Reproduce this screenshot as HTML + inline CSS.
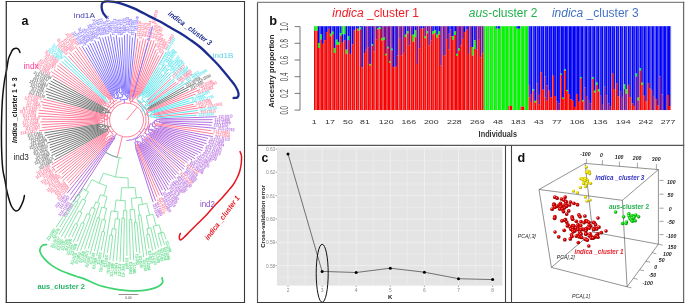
<!DOCTYPE html>
<html><head><meta charset="utf-8"><style>
html,body{margin:0;padding:0;background:#fff;width:685px;height:304px;overflow:hidden}
svg{display:block;will-change:transform}
text{font-family:"Liberation Sans", sans-serif}
</style></head><body>
<svg xmlns="http://www.w3.org/2000/svg" width="685" height="304" viewBox="0 0 685 304">
<rect width="685" height="304" fill="#fff"/>
<g fill="none" stroke-linecap="butt">
<path d="M159.46 118.81L216.82 116.73M159.48 119.87L212.60 119.67M159.46 118.81A32.98 32.98 0 0 1 159.48 119.87M156.51 119.40L159.48 119.34M159.36 120.94L212.66 122.46M162.11 122.17L211.66 125.19M162.02 123.32L215.92 128.36M162.11 122.17A35.67 35.67 0 0 1 162.02 123.32M159.28 122.53L162.07 122.75M159.36 120.94A32.88 32.88 0 0 1 159.28 122.53M156.47 121.58L159.33 121.73M156.51 119.40A30.01 30.01 0 0 1 156.47 121.58M154.73 120.46L156.51 120.49M154.73 120.46A28.23 28.23 0 0 1 154.45 123.99M153.01 122.10L154.65 122.23M155.45 125.58L212.80 136.62M160.44 127.68L208.04 138.46M160.18 128.78L206.34 140.81M160.44 127.68A34.80 34.80 0 0 1 160.18 128.78M158.36 127.76L160.31 128.23M157.94 129.29L206.60 143.67M158.36 127.76A32.79 32.79 0 0 1 157.94 129.29M156.62 128.11L158.16 128.53M156.11 129.80L203.78 145.58M156.62 128.11A31.19 31.19 0 0 1 156.11 129.80M154.74 128.47L156.38 128.96M155.45 125.58A29.49 29.49 0 0 1 154.74 128.47M152.32 126.34L155.14 127.03M153.01 122.10A26.59 26.59 0 0 1 152.32 126.34M149.99 123.79L152.75 124.24M151.14 129.05L203.14 148.15M152.60 130.56L202.39 150.70M152.24 131.40L200.68 152.84M152.60 130.56A28.15 28.15 0 0 1 152.24 131.40M150.67 130.23L152.42 130.98M151.14 129.05A26.25 26.25 0 0 1 150.67 130.23M149.47 129.07L150.91 129.65M153.15 132.85L197.89 154.41M152.72 133.70L195.16 155.87M153.15 132.85A29.59 29.59 0 0 1 152.72 133.70M151.30 132.45L152.94 133.27M150.67 133.64L195.11 158.72M151.30 132.45A27.75 27.75 0 0 1 150.67 133.64M148.29 131.61L150.99 133.05M149.47 129.07A24.69 24.69 0 0 1 148.29 131.61M148.10 129.98L148.92 130.36M149.99 123.79A23.79 23.79 0 0 1 148.10 129.98M147.80 126.51L149.25 126.95M148.96 133.65L192.18 159.92M150.12 135.42L188.46 160.47M149.61 136.18L187.48 162.70M150.12 135.42A28.21 28.21 0 0 1 149.61 136.18M148.27 134.73L149.86 135.80M148.96 133.65A26.29 26.29 0 0 1 148.27 134.73M147.91 133.74L148.63 134.20M148.76 137.84L184.80 166.72M147.91 133.74A25.44 25.44 0 0 1 146.61 135.59M144.69 132.85L147.28 134.68M147.80 126.51A22.27 22.27 0 0 1 144.69 132.85M144.10 128.63L146.50 129.80M146.83 137.40L184.19 169.38M146.26 138.05L182.18 170.87M146.83 137.40A26.76 26.76 0 0 1 146.26 138.05M145.41 136.72L146.54 137.73M144.77 139.00L178.92 174.52M145.41 136.72A25.24 25.24 0 0 1 144.28 137.91M142.80 135.38L144.85 137.32M143.08 138.40L176.02 174.95M143.51 140.15L176.02 178.66M145.20 143.66L173.37 179.31M144.42 144.26L171.00 180.22M145.20 143.66A30.16 30.16 0 0 1 144.42 144.26M143.25 141.91L144.81 143.96M142.16 142.70L169.75 182.67M143.25 141.91A27.58 27.58 0 0 1 142.16 142.70M142.00 141.34L142.71 142.31M143.51 140.15A26.37 26.37 0 0 1 142.00 141.34M141.78 139.50L142.77 140.76M143.08 138.40A24.77 24.77 0 0 1 141.78 139.50M140.92 137.16L142.44 138.96M142.80 135.38A22.41 22.41 0 0 1 140.92 137.16M141.03 135.39L141.89 136.30M140.98 142.51L168.62 185.47M140.81 143.92L168.25 189.76M140.03 144.37L165.90 190.94M140.81 143.92A27.87 27.87 0 0 1 140.03 144.37M139.87 143.18L140.43 144.14M140.98 142.51A26.76 26.76 0 0 1 139.87 143.18M139.59 141.47L140.43 142.85M139.08 144.48L162.52 190.10M138.28 144.88L162.40 195.80M139.08 144.48A27.53 27.53 0 0 1 138.28 144.88M138.29 143.89L138.68 144.68M138.29 143.89A26.64 26.64 0 0 1 137.12 144.43M137.08 142.81L137.71 144.17M139.59 141.47A25.14 25.14 0 0 1 137.08 142.81M137.77 141.08L138.35 142.18M136.51 147.85L155.58 200.87M135.61 148.16L153.11 202.26M136.51 147.85A29.59 29.59 0 0 1 135.61 148.16M135.22 145.54L136.06 148.01M136.45 145.08A26.98 26.98 0 0 1 135.22 145.54M134.77 142.43L135.84 145.32M137.77 141.08A23.90 23.90 0 0 1 134.77 142.43M135.17 139.31L136.29 141.81M141.03 135.39A21.17 21.17 0 0 1 135.17 139.31M137.39 136.29L138.27 137.60M144.10 128.63A19.60 19.60 0 0 1 137.39 136.29M139.30 131.19L141.25 132.90M114.91 137.85L73.12 202.20M114.29 137.44L70.22 200.37M114.91 137.85A21.29 21.29 0 0 1 114.29 137.44M115.20 136.75L114.60 137.65M112.57 138.49L70.19 194.72M111.93 137.99L67.12 193.33M112.57 138.49A23.15 23.15 0 0 1 111.93 137.99M114.06 135.92L112.25 138.24M115.20 136.75A20.20 20.20 0 0 1 114.06 135.92M116.51 133.75L114.63 136.34M117.19 157.36A38.50 38.50 0 0 1 105.53 152.29M137.36 137.38A20.50 20.50 0 0 1 126.50 140.50" stroke="#b56fe0" stroke-width="1.0"/>
<path d="M155.52 123.66L211.30 130.70M155.38 124.60L213.82 133.91M155.52 123.66A29.25 29.25 0 0 1 155.38 124.60M154.45 123.99L155.45 124.13M149.33 137.11L184.82 163.71M149.33 137.11A28.53 28.53 0 0 1 148.76 137.84M146.61 135.59L149.05 137.48M145.37 138.40L179.11 171.28M145.37 138.40A26.35 26.35 0 0 1 144.77 139.00M144.28 137.91L145.07 138.70M137.12 144.43L159.31 195.49M136.45 145.08L157.14 197.24M112.77 135.85L69.81 185.42M110.20 137.65L68.31 183.00M105.71 141.13L66.53 180.93M105.05 140.46L62.39 181.13M105.71 141.13A29.64 29.64 0 0 1 105.05 140.46M107.33 138.87L105.37 140.79M105.55 138.74L60.52 179.03M104.97 138.07L61.74 174.34M105.55 138.74A28.11 28.11 0 0 1 104.97 138.07M106.17 137.61L105.26 138.41M107.33 138.87A26.90 26.90 0 0 1 106.17 137.61M108.85 136.30L106.74 138.25M110.20 137.65A24.03 24.03 0 0 1 108.85 136.30M111.67 134.83L109.51 136.99M112.77 135.85A20.97 20.97 0 0 1 111.67 134.83M113.14 134.35L112.21 135.35M107.46 134.97L58.81 173.23M106.99 134.36L55.00 172.64M107.46 134.97A24.22 24.22 0 0 1 106.99 134.36M108.33 133.83L107.22 134.67M105.51 134.45L56.62 168.11M105.06 133.78L51.82 167.99M105.51 134.45A25.49 25.49 0 0 1 105.06 133.78M107.49 132.65L105.28 134.12M108.33 133.83A22.83 22.83 0 0 1 107.49 132.65M108.65 132.71L107.90 133.24M107.70 131.25L51.85 164.70M108.65 132.71A21.91 21.91 0 0 1 107.70 131.25M110.10 130.73L108.16 131.99M113.14 134.35A19.60 19.60 0 0 1 110.10 130.73M113.50 130.95L111.51 132.63M100.21 123.25L39.08 130.80M98.19 122.54L42.12 127.57M98.12 121.59L41.64 124.76M98.19 122.54A28.42 28.42 0 0 1 98.12 121.59M100.09 121.92L98.15 122.07M100.21 123.25A26.48 26.48 0 0 1 100.09 121.92M102.28 122.38L100.14 122.59M99.26 120.61L40.31 121.94M99.26 119.70L41.88 119.08M99.26 120.61A27.24 27.24 0 0 1 99.26 119.70M102.17 120.14L99.26 120.16M102.28 122.38A24.33 24.33 0 0 1 102.17 120.14M104.60 121.14L102.20 121.26M100.71 118.86L38.09 116.08M100.77 117.99L38.43 113.13M100.71 118.86A25.81 25.81 0 0 1 100.77 117.99M103.54 118.60L100.74 118.42M101.62 117.22L38.80 110.20M101.73 116.39L42.58 107.77M101.62 117.22A25.03 25.03 0 0 1 101.73 116.39M103.68 117.06L101.67 116.80M103.54 118.60A23.01 23.01 0 0 1 103.68 117.06M104.67 117.93L103.60 117.83M104.60 121.14A21.93 21.93 0 0 1 104.67 117.93M107.50 119.59L104.58 119.53M106.25 116.35L42.15 104.81M105.18 115.42L40.46 101.52M105.34 114.71L43.30 99.19M105.18 115.42A21.81 21.81 0 0 1 105.34 114.71M106.46 115.34L105.26 115.06M106.25 116.35A20.58 20.58 0 0 1 106.46 115.34M107.89 116.16L106.35 115.85M107.50 119.59A19.00 19.00 0 0 1 107.89 116.16M109.61 118.09L107.62 117.87M100.62 104.49L51.84 75.26M101.14 103.66L51.25 71.51M100.62 104.49A30.17 30.17 0 0 1 101.14 103.66M102.77 105.25L100.88 104.07M103.52 104.11L53.83 69.75M102.77 105.25A27.94 27.94 0 0 1 103.52 104.11M105.15 105.99L103.14 104.67M104.88 103.98L57.22 68.68M105.41 103.29L57.61 65.40M104.88 103.98A26.90 26.90 0 0 1 105.41 103.29M106.24 104.47L105.15 103.63M105.15 105.99A25.53 25.53 0 0 1 106.24 104.47M108.20 107.01L105.68 105.22M109.37 105.49L59.47 63.22M108.20 107.01A22.44 22.44 0 0 1 109.37 105.49M111.02 107.98L108.77 106.24M105.21 96.58L68.36 56.03M109.67 100.23L68.90 52.32M109.77 99.00L73.10 52.94M110.47 98.46L75.17 51.05M109.77 99.00A26.85 26.85 0 0 1 110.47 98.46M110.66 99.43L110.12 98.73M109.67 100.23A25.96 25.96 0 0 1 110.66 99.43M111.06 100.93L110.16 99.82M108.78 103.03A24.54 24.54 0 0 1 111.06 100.93M111.33 103.51L109.88 101.94M112.16 99.37L75.32 46.37M112.84 98.92L79.05 46.74M112.16 99.37A25.12 25.12 0 0 1 112.84 98.92M114.02 101.40L112.50 99.14M111.33 103.51A22.40 22.40 0 0 1 114.02 101.40M114.37 104.61L112.63 102.40M111.02 107.98A19.60 19.60 0 0 1 114.37 104.61M114.43 108.02L112.59 106.19M129.37 99.45L137.87 38.47M130.54 96.61L140.21 40.73M131.31 96.76L143.36 38.51M130.54 96.61A23.73 23.73 0 0 1 131.31 96.76M130.37 99.61L130.93 96.68M129.37 99.45A20.75 20.75 0 0 1 130.37 99.61M129.63 100.96L129.87 99.53M132.19 96.40L146.08 38.84M133.93 96.16L151.35 40.27M134.71 96.41L154.19 40.43M133.93 96.16A24.97 24.97 0 0 1 134.71 96.41M133.79 97.88L134.32 96.28M134.87 98.27L156.06 43.23M133.79 97.88A23.29 23.29 0 0 1 134.87 98.27M133.92 99.23L134.33 98.07M132.02 98.64A22.06 22.06 0 0 1 133.92 99.23M132.17 101.55L132.98 98.91M129.63 100.96A19.30 19.30 0 0 1 132.17 101.55M130.39 103.45L130.91 101.21M136.86 95.51L156.38 49.36M137.65 95.86L157.67 52.51M136.86 95.51A26.59 26.59 0 0 1 137.65 95.86M136.89 96.50L137.25 95.68M138.89 95.31L158.96 55.30M140.47 94.27L163.78 51.34M136.89 96.50A25.70 25.70 0 0 1 138.67 97.37M136.61 99.32L137.79 96.92M147.96 100.04L171.06 78.55M148.67 103.08L176.18 82.07M149.20 103.80L178.57 82.86M148.67 103.08A27.89 27.89 0 0 1 149.20 103.80M147.26 104.68L148.94 103.44M148.28 110.14L196.92 88.12M149.97 110.28L199.91 89.59M150.27 111.04L195.61 93.96M149.97 110.28A25.41 25.41 0 0 1 150.27 111.04M148.73 111.21L150.13 110.66M148.28 110.14A23.91 23.91 0 0 1 148.73 111.21M147.52 111.09L148.51 110.67M147.52 111.09A22.83 22.83 0 0 1 148.11 112.65M146.71 112.29L147.83 111.87M154.30 113.47L193.76 104.21M151.84 114.91L196.65 105.91M155.49 115.15L205.93 106.71M156.38 116.97L198.54 112.70M146.71 112.29A21.63 21.63 0 0 1 147.80 116.21M145.68 114.69L147.35 114.23M122.39 136.50L117.19 157.36M118.00 105.28A17.00 17.00 0 1 1 123.55 136.74M123.55 136.74A17.00 17.00 0 0 1 118.00 105.28M126.50 120.00L137.43 106.98M111.49 132.60A19.60 19.60 0 0 1 121.43 101.07M131.57 101.07A19.60 19.60 0 0 1 137.74 136.06M107.27 131.10A22.20 22.20 0 0 1 117.12 99.88M136.92 100.40A22.20 22.20 0 0 1 143.51 134.27M132.91 96.87L152.69 25.56" stroke="#ff7f9c" stroke-width="1.0"/>
<path d="M107.82 130.39L54.20 160.22M104.26 131.46L55.26 156.69M103.90 130.74L51.43 155.67M104.26 131.46A25.02 25.02 0 0 1 103.90 130.74M105.36 130.46L104.08 131.10M102.40 130.52L51.53 152.73M102.08 129.74L50.15 150.46M102.40 130.52A26.29 26.29 0 0 1 102.08 129.74M104.74 129.09L102.24 130.13M105.36 130.46A23.58 23.58 0 0 1 104.74 129.09M107.05 128.86L105.04 129.78M107.82 130.39A21.38 21.38 0 0 1 107.05 128.86M108.47 129.11L107.42 129.64M105.32 127.67L49.73 147.82M99.26 128.89L49.76 145.06M98.99 128.02L46.84 143.22M99.26 128.89A28.66 28.66 0 0 1 98.99 128.02M100.85 127.92L99.12 128.46M99.56 126.93L48.87 139.96M99.35 126.06L47.32 137.67M99.56 126.93A27.82 27.82 0 0 1 99.35 126.06M100.40 126.27L99.45 126.49M100.85 127.92A26.85 26.85 0 0 1 100.40 126.27M103.14 126.41L100.61 127.10M99.63 125.10L45.00 135.47M99.48 124.24L44.35 132.89M99.63 125.10A27.35 27.35 0 0 1 99.48 124.24M102.63 124.14L99.55 124.67M103.14 126.41A24.22 24.22 0 0 1 102.63 124.14M104.51 124.91L102.86 125.28M105.32 127.67A22.53 22.53 0 0 1 104.51 124.91M107.11 125.65L104.87 126.30M108.47 129.11A20.20 20.20 0 0 1 107.11 125.65M110.69 126.24L107.71 127.41M103.05 113.30L47.00 97.30M100.40 111.61L46.20 94.20M100.68 110.76L45.41 90.99M100.40 111.61A27.42 27.42 0 0 1 100.68 110.76M103.41 112.16L100.54 111.19M103.05 113.30A24.39 24.39 0 0 1 103.41 112.16M105.26 113.37L103.22 112.73M103.53 110.92L46.53 88.40M102.78 109.72L49.51 86.62M103.13 108.95L48.53 83.12M102.78 109.72A25.86 25.86 0 0 1 103.13 108.95M104.00 109.81L102.95 109.33M103.53 110.92A24.70 24.70 0 0 1 104.00 109.81M106.01 111.32L103.76 110.36M105.26 113.37A22.25 22.25 0 0 1 106.01 111.32M107.26 112.94L105.61 112.33M106.30 109.62L50.66 81.04M106.65 108.97L53.01 79.16M106.30 109.62A22.71 22.71 0 0 1 106.65 108.97M108.42 110.34L106.47 109.30M107.26 112.94A20.50 20.50 0 0 1 108.42 110.34M110.99 113.05L107.79 111.62M149.32 106.86L184.17 86.80M149.73 107.61L195.96 82.95M149.32 106.86A26.33 26.33 0 0 1 149.73 107.61M147.97 108.10L149.53 107.24M148.53 109.16L188.75 89.35M147.97 108.10A24.55 24.55 0 0 1 148.53 109.16M146.69 109.44L148.26 108.62" stroke="#787878" stroke-width="1.0"/>
<path d="M105.94 101.40L61.61 61.30M104.72 98.96L64.17 59.81M104.46 97.29L63.99 55.57M104.46 97.29A31.65 31.65 0 0 1 105.21 96.58M105.77 97.92L104.84 96.93M104.72 98.96A30.28 30.28 0 0 1 105.77 97.92M107.03 100.26L105.24 98.44M105.94 101.40A27.72 27.72 0 0 1 107.03 100.26M108.78 103.03L106.48 100.82M141.73 94.00L166.31 52.02M142.56 94.51L159.78 67.18M141.73 94.00A30.13 30.13 0 0 1 142.56 94.51M141.71 94.98L142.15 94.25M140.47 94.27A29.28 29.28 0 0 1 141.71 94.98M140.26 96.06L141.09 94.61M138.89 95.31A27.62 27.62 0 0 1 140.26 96.06M138.67 97.37L139.58 95.67M142.49 96.36L164.66 63.58M145.98 93.11L166.37 64.98M146.84 93.76L162.32 73.80M145.98 93.11A33.20 33.20 0 0 1 146.84 93.76M144.59 95.86L146.42 93.43M146.32 96.08L168.87 68.87M148.24 95.43L168.67 72.34M149.02 96.15L171.42 72.43M148.24 95.43A32.81 32.81 0 0 1 149.02 96.15M147.46 97.07L148.63 95.78M146.32 96.08A31.07 31.07 0 0 1 147.46 97.07M146.30 97.25L146.90 96.56M144.59 95.86A30.17 30.17 0 0 1 146.30 97.25M144.44 97.80L145.46 96.54M142.49 96.36A28.54 28.54 0 0 1 144.44 97.80M141.90 99.20L143.48 97.06M147.30 99.35L171.34 75.49M147.30 99.35A29.31 29.31 0 0 1 147.96 100.04M146.27 101.01L147.63 99.69M147.17 101.99L174.75 77.95M146.27 101.01A27.41 27.41 0 0 1 147.17 101.99M145.59 102.53L146.72 101.49M141.90 99.20A25.88 25.88 0 0 1 145.59 102.53M141.91 102.90L143.83 100.77M136.61 99.32A23.02 23.02 0 0 1 141.91 102.90M138.32 102.50L139.39 100.92M145.19 104.75L174.73 80.64M148.71 105.22L184.18 81.62M149.17 105.95L191.40 79.78M148.71 105.22A26.67 26.67 0 0 1 149.17 105.95M148.21 106.05L148.94 105.58M147.26 104.68A25.81 25.81 0 0 1 148.21 106.05M146.36 106.31L147.75 105.36M145.19 104.75A24.12 24.12 0 0 1 146.36 106.31M144.72 106.32L145.79 105.52M144.72 106.32A22.78 22.78 0 0 1 146.69 109.44M144.36 108.73L145.77 107.84M138.32 102.50A21.12 21.12 0 0 1 144.36 108.73M140.79 106.15L141.66 105.30M148.11 112.65L193.45 97.23M152.99 111.94L189.69 100.77M154.08 112.57L197.03 101.01M154.08 112.57A28.56 28.56 0 0 1 154.30 113.47M153.35 113.24L154.19 113.02M152.99 111.94A27.69 27.69 0 0 1 153.35 113.24M151.40 113.08L153.17 112.58M151.40 113.08A25.84 25.84 0 0 1 151.84 114.91M150.64 114.23L151.63 113.99M155.63 116.09L197.96 110.41M155.49 115.15A29.39 29.39 0 0 1 155.63 116.09M153.97 115.86L155.56 115.62M156.46 117.94L196.71 115.18M156.38 116.97A30.03 30.03 0 0 1 156.46 117.94M154.18 117.65L156.42 117.46M153.97 115.86A27.78 27.78 0 0 1 154.18 117.65M151.15 117.10L154.09 116.75M150.64 114.23A24.82 24.82 0 0 1 151.15 117.10M147.80 116.21L150.93 115.66M140.79 106.15A19.90 19.90 0 0 1 145.68 114.69M141.25 111.55L143.77 110.11" stroke="#5ee6ee" stroke-width="1.0"/>
<path d="M112.18 96.24L82.01 46.16M112.96 95.79L85.93 47.45M112.18 96.24A27.74 27.74 0 0 1 112.96 95.79M113.56 97.71L112.57 96.01M113.94 95.72L87.59 44.81M114.73 95.32L89.85 43.16M113.94 95.72A27.34 27.34 0 0 1 114.73 95.32M115.03 96.92L114.33 95.52M113.56 97.71A25.77 25.77 0 0 1 115.03 96.92M115.04 98.71L114.29 97.30M114.04 91.54L92.82 43.07M114.97 91.15L94.67 40.36M114.04 91.54A31.07 31.07 0 0 1 114.97 91.15M115.44 93.58L114.50 91.34M116.74 93.08L97.93 41.19M115.44 93.58A28.64 28.64 0 0 1 116.74 93.08M117.20 96.17L116.09 93.32M118.56 95.68L99.42 37.00M117.20 96.17A25.58 25.58 0 0 1 118.56 95.68M118.35 97.24L117.88 95.92M115.04 98.71A24.18 24.18 0 0 1 118.35 97.24M117.00 98.66L116.67 97.91M118.16 91.33L102.52 37.52M118.56 88.98L105.14 36.54M119.32 87.61L107.93 36.26M120.37 87.39L110.40 34.34M119.32 87.61A33.18 33.18 0 0 1 120.37 87.39M120.08 88.63L119.84 87.50M118.56 88.98A32.02 32.02 0 0 1 120.08 88.63M119.80 90.90L119.32 88.80M118.16 91.33A29.86 29.86 0 0 1 119.80 90.90M119.49 93.06L118.98 91.10M122.25 92.49L113.65 36.83M119.49 93.06A27.84 27.84 0 0 1 122.25 92.49M121.28 94.76L120.86 92.74M123.39 94.41L116.19 35.14M121.28 94.76A25.78 25.78 0 0 1 123.39 94.41M122.72 96.95L122.33 94.56M117.00 98.66A23.36 23.36 0 0 1 122.72 96.95M120.54 100.07L119.81 97.62M124.23 94.37L119.16 37.29M124.89 91.42L121.86 37.36M125.82 91.38L124.49 35.13M124.89 91.42A28.63 28.63 0 0 1 125.82 91.38M125.42 93.06L125.36 91.40M126.74 93.04L127.25 34.03M125.42 93.06A26.97 26.97 0 0 1 126.74 93.04M126.10 94.27L126.08 93.04M124.23 94.37A25.73 25.73 0 0 1 126.10 94.27M125.24 95.85L125.16 94.30M127.58 93.81L129.99 35.33M128.43 93.86L132.59 37.38M127.58 93.81A26.22 26.22 0 0 1 128.43 93.86M127.89 95.86L128.00 93.83M125.24 95.85A24.18 24.18 0 0 1 127.89 95.86M126.56 97.07L126.56 95.82M128.93 97.20L135.75 33.01M126.56 97.07A22.93 22.93 0 0 1 128.93 97.20M127.63 99.23L127.74 97.10M120.54 100.07A20.80 20.80 0 0 1 127.63 99.23M124.50 103.12L124.05 99.34M132.96 96.60L147.89 42.55M132.19 96.40A24.28 24.28 0 0 1 132.96 96.60M132.02 98.64L132.58 96.49" stroke="#8575ff" stroke-width="1.0"/>
<path d="M121.81 158.21A38.50 38.50 0 0 1 105.53 152.29M163.56 232.03L165.96 239.28M160.82 232.90L164.51 245.04M158.06 233.70L161.53 246.22M160.82 232.90A118.00 118.00 0 0 1 158.06 233.70M159.44 233.31L159.44 233.31M163.56 232.03A118.00 118.00 0 0 1 159.44 233.31M159.05 224.78L161.50 232.69M153.26 226.40L158.56 247.45M159.05 224.78A109.71 109.71 0 0 1 153.26 226.40M152.96 214.22L156.17 225.63M150.84 227.80L155.69 249.28M149.42 234.40L152.69 250.74M146.63 234.92L149.03 248.64M149.42 234.40A116.67 116.67 0 0 1 146.63 234.92M146.89 228.61L148.03 234.67M150.84 227.80A110.51 110.51 0 0 1 146.89 228.61M146.31 215.84L148.87 228.22M152.96 214.22A97.87 97.87 0 0 1 146.31 215.84M146.80 203.38L149.65 215.09M140.76 214.95L146.86 255.59M138.44 215.27L143.71 257.26M140.76 214.95A96.02 96.02 0 0 1 138.44 215.27M138.21 205.01L139.60 215.12M146.80 203.38A85.81 85.81 0 0 1 138.21 205.01M141.18 197.21L142.52 204.30M136.79 222.18L139.96 253.67M134.30 222.40L136.55 252.01M136.79 222.18A102.70 102.70 0 0 1 134.30 222.40M134.40 209.37L135.54 222.30M131.65 219.57L133.76 260.35M129.22 219.67L130.32 259.83M131.65 219.57A99.70 99.70 0 0 1 129.22 219.67M130.04 209.65L130.44 219.63M134.40 209.37A89.72 89.72 0 0 1 130.04 209.65M131.51 198.43L132.22 209.54M141.18 197.21A78.59 78.59 0 0 1 131.51 198.43M135.01 187.29L136.36 197.97M126.77 210.77L126.91 255.87M124.40 218.21L123.47 262.04M122.01 218.13L120.02 261.68M124.40 218.21A98.23 98.23 0 0 1 122.01 218.13M123.46 210.72L123.21 218.18M126.77 210.77A90.77 90.77 0 0 1 123.46 210.72M125.27 200.66L125.11 210.76M119.54 219.15L116.63 260.72M116.17 229.09L113.12 261.30M112.74 235.36L109.77 260.26M109.93 234.99L107.38 252.72M112.74 235.36A116.18 116.18 0 0 1 109.93 234.99M112.20 228.64L111.34 235.19M116.17 229.09A109.58 109.58 0 0 1 112.20 228.64M115.33 218.76L114.18 228.89M119.54 219.15A99.39 99.39 0 0 1 115.33 218.76M118.09 211.77L117.43 218.98M111.14 210.86L103.22 257.73M118.09 211.77A92.15 92.15 0 0 1 111.14 210.86M116.09 200.00L114.61 211.38M125.27 200.66A80.67 80.67 0 0 1 116.09 200.00M121.60 187.65L120.67 200.46M135.01 187.29A67.83 67.83 0 0 1 121.60 187.65M128.05 177.98L128.31 187.81M104.75 232.02L101.14 250.64M102.03 231.46L96.60 256.18M104.75 232.02A114.11 114.11 0 0 1 102.03 231.46M105.76 220.29L103.39 231.75M102.11 219.46L94.37 251.04M105.76 220.29A102.41 102.41 0 0 1 102.11 219.46M106.54 208.34L103.93 219.89M99.85 218.29L90.02 254.54M97.46 217.61L88.18 248.82M99.85 218.29A101.84 101.84 0 0 1 97.46 217.61M101.74 207.11L98.65 217.96M106.54 208.34A90.56 90.56 0 0 1 101.74 207.11M106.96 196.67L104.13 207.76M99.50 203.30L84.59 249.28M95.29 208.84L80.62 250.61M90.50 215.02L76.85 251.05M84.32 223.64L76.92 241.82M81.81 222.58L73.36 241.98M84.32 223.64A111.89 111.89 0 0 1 81.81 222.58M87.06 213.64L83.06 223.12M90.50 215.02A101.61 101.61 0 0 1 87.06 213.64M91.54 207.43L88.77 214.35M95.29 208.84A94.16 94.16 0 0 1 91.54 207.43M95.72 201.99L93.41 208.15M99.50 203.30A87.57 87.57 0 0 1 95.72 201.99M100.39 194.69L97.60 202.67M106.96 196.67A79.12 79.12 0 0 1 100.39 194.69M106.61 185.96L103.65 195.75M77.77 224.81L72.01 237.21M75.24 223.59L68.59 237.03M77.77 224.81A115.58 115.58 0 0 1 75.24 223.59M82.00 212.76L76.50 224.21M78.64 211.07L64.46 238.06M82.00 212.76A102.88 102.88 0 0 1 78.64 211.07M85.90 200.81L80.31 211.93M82.49 199.01L61.41 236.86M85.90 200.81A90.44 90.44 0 0 1 82.49 199.01M88.53 191.72L84.18 199.93M78.09 202.14L58.91 234.68M76.10 200.94L59.89 226.98M78.09 202.14A95.35 95.35 0 0 1 76.10 200.94M80.34 196.19L77.09 201.55M77.59 194.45L55.98 227.35M80.34 196.19A89.08 89.08 0 0 1 77.59 194.45M83.19 188.63L78.95 195.34M88.53 191.72A81.15 81.15 0 0 1 83.19 188.63M91.97 179.62L85.83 190.23M106.61 185.96A68.90 68.90 0 0 1 91.97 179.62M103.44 173.22L99.10 183.22M128.05 177.98A58.00 58.00 0 0 1 103.44 173.22M119.19 157.80L115.48 176.94" stroke="#4fd67e" stroke-width="0.65"/>
</g>
<text transform="translate(218.82 116.66) rotate(-2.1)" font-size="4.3" font-weight="bold" fill="#b56fe0" dy="1.3" textLength="13.8" lengthAdjust="spacingAndGlyphs">313-10313</text>
<text transform="translate(214.60 119.66) rotate(-0.2)" font-size="4.3" font-weight="bold" fill="#b56fe0" dy="1.3" textLength="15.2" lengthAdjust="spacingAndGlyphs">313-11658</text>
<text transform="translate(214.66 122.52) rotate(1.6)" font-size="4.3" font-weight="bold" fill="#b56fe0" dy="1.3" textLength="16.0" lengthAdjust="spacingAndGlyphs">313-11999</text>
<text transform="translate(213.66 125.31) rotate(3.5)" font-size="4.3" font-weight="bold" fill="#b56fe0" dy="1.3" textLength="14.8" lengthAdjust="spacingAndGlyphs">313-11650</text>
<text transform="translate(217.91 128.55) rotate(5.3)" font-size="4.3" font-weight="bold" fill="#b56fe0" dy="1.3" textLength="16.6" lengthAdjust="spacingAndGlyphs">313-10763</text>
<text transform="translate(213.28 130.96) rotate(7.2)" font-size="4.3" font-weight="bold" fill="#ff7f9c" dy="1.3" textLength="16.8" lengthAdjust="spacingAndGlyphs">313-10883</text>
<text transform="translate(215.79 134.22) rotate(9.0)" font-size="4.3" font-weight="bold" fill="#ff7f9c" dy="1.3" textLength="14.6" lengthAdjust="spacingAndGlyphs">313-10948</text>
<text transform="translate(214.76 137.00) rotate(10.9)" font-size="4.3" font-weight="bold" fill="#b56fe0" dy="1.3" textLength="15.2" lengthAdjust="spacingAndGlyphs">313-11110</text>
<text transform="translate(209.99 138.90) rotate(12.8)" font-size="4.3" font-weight="bold" fill="#b56fe0" dy="1.3" textLength="14.3" lengthAdjust="spacingAndGlyphs">313-11958</text>
<text transform="translate(208.27 141.32) rotate(14.6)" font-size="4.3" font-weight="bold" fill="#b56fe0" dy="1.3" textLength="16.5" lengthAdjust="spacingAndGlyphs">313-10584</text>
<text transform="translate(208.52 144.24) rotate(16.5)" font-size="4.3" font-weight="bold" fill="#b56fe0" dy="1.3" textLength="13.6" lengthAdjust="spacingAndGlyphs">313-10764</text>
<text transform="translate(205.67 146.21) rotate(18.3)" font-size="4.3" font-weight="bold" fill="#b56fe0" dy="1.3" textLength="16.6" lengthAdjust="spacingAndGlyphs">313-11653</text>
<text transform="translate(205.01 148.84) rotate(20.2)" font-size="4.3" font-weight="bold" fill="#b56fe0" dy="1.3" textLength="16.4" lengthAdjust="spacingAndGlyphs">313-11530</text>
<text transform="translate(204.25 151.45) rotate(22.0)" font-size="4.3" font-weight="bold" fill="#b56fe0" dy="1.3" textLength="14.3" lengthAdjust="spacingAndGlyphs">313-11652</text>
<text transform="translate(202.51 153.65) rotate(23.9)" font-size="4.3" font-weight="bold" fill="#b56fe0" dy="1.3" textLength="15.3" lengthAdjust="spacingAndGlyphs">313-10029</text>
<text transform="translate(199.69 155.27) rotate(25.7)" font-size="4.3" font-weight="bold" fill="#b56fe0" dy="1.3" textLength="14.0" lengthAdjust="spacingAndGlyphs">313-11087</text>
<text transform="translate(196.93 156.80) rotate(27.6)" font-size="4.3" font-weight="bold" fill="#b56fe0" dy="1.3" textLength="14.0" lengthAdjust="spacingAndGlyphs">313-10042</text>
<text transform="translate(196.85 159.70) rotate(29.4)" font-size="4.3" font-weight="bold" fill="#b56fe0" dy="1.3" textLength="14.1" lengthAdjust="spacingAndGlyphs">313-10102</text>
<text transform="translate(193.89 160.96) rotate(31.3)" font-size="4.3" font-weight="bold" fill="#b56fe0" dy="1.3" textLength="13.5" lengthAdjust="spacingAndGlyphs">313-11576</text>
<text transform="translate(190.14 161.56) rotate(33.1)" font-size="4.3" font-weight="bold" fill="#b56fe0" dy="1.3" textLength="16.3" lengthAdjust="spacingAndGlyphs">313-10726</text>
<text transform="translate(189.12 163.85) rotate(35.0)" font-size="4.3" font-weight="bold" fill="#b56fe0" dy="1.3" textLength="16.9" lengthAdjust="spacingAndGlyphs">313-11608</text>
<text transform="translate(186.42 164.91) rotate(36.9)" font-size="4.3" font-weight="bold" fill="#ff7f9c" dy="1.3" textLength="14.8" lengthAdjust="spacingAndGlyphs">313-11131</text>
<text transform="translate(186.36 167.97) rotate(38.7)" font-size="4.3" font-weight="bold" fill="#b56fe0" dy="1.3" textLength="13.6" lengthAdjust="spacingAndGlyphs">313-10378</text>
<text transform="translate(185.71 170.68) rotate(40.6)" font-size="4.3" font-weight="bold" fill="#b56fe0" dy="1.3" textLength="14.3" lengthAdjust="spacingAndGlyphs">313-10566</text>
<text transform="translate(183.65 172.21) rotate(42.4)" font-size="4.3" font-weight="bold" fill="#b56fe0" dy="1.3" textLength="15.0" lengthAdjust="spacingAndGlyphs">313-10692</text>
<text transform="translate(180.54 172.68) rotate(44.3)" font-size="4.3" font-weight="bold" fill="#ff7f9c" dy="1.3" textLength="16.4" lengthAdjust="spacingAndGlyphs">313-11235</text>
<text transform="translate(180.31 175.96) rotate(46.1)" font-size="4.3" font-weight="bold" fill="#b56fe0" dy="1.3" textLength="15.4" lengthAdjust="spacingAndGlyphs">313-10192</text>
<text transform="translate(177.36 176.44) rotate(48.0)" font-size="4.3" font-weight="bold" fill="#b56fe0" dy="1.3" textLength="15.1" lengthAdjust="spacingAndGlyphs">313-10536</text>
<text transform="translate(177.31 180.19) rotate(49.8)" font-size="4.3" font-weight="bold" fill="#b56fe0" dy="1.3" textLength="14.4" lengthAdjust="spacingAndGlyphs">313-11642</text>
<text transform="translate(174.61 180.88) rotate(51.7)" font-size="4.3" font-weight="bold" fill="#b56fe0" dy="1.3" textLength="15.2" lengthAdjust="spacingAndGlyphs">313-11480</text>
<text transform="translate(172.19 181.82) rotate(53.5)" font-size="4.3" font-weight="bold" fill="#b56fe0" dy="1.3" textLength="14.4" lengthAdjust="spacingAndGlyphs">313-10090</text>
<text transform="translate(170.89 184.32) rotate(55.4)" font-size="4.3" font-weight="bold" fill="#b56fe0" dy="1.3" textLength="13.6" lengthAdjust="spacingAndGlyphs">313-10076</text>
<text transform="translate(169.70 187.15) rotate(57.2)" font-size="4.3" font-weight="bold" fill="#b56fe0" dy="1.3" textLength="15.7" lengthAdjust="spacingAndGlyphs">313-11382</text>
<text transform="translate(169.28 191.47) rotate(59.1)" font-size="4.3" font-weight="bold" fill="#b56fe0" dy="1.3" textLength="14.1" lengthAdjust="spacingAndGlyphs">313-11559</text>
<text transform="translate(166.87 192.69) rotate(61.0)" font-size="4.3" font-weight="bold" fill="#b56fe0" dy="1.3" textLength="16.3" lengthAdjust="spacingAndGlyphs">313-10506</text>
<text transform="translate(163.43 191.88) rotate(62.8)" font-size="4.3" font-weight="bold" fill="#b56fe0" dy="1.3" textLength="16.8" lengthAdjust="spacingAndGlyphs">313-11523</text>
<text transform="translate(163.25 197.60) rotate(64.7)" font-size="4.3" font-weight="bold" fill="#b56fe0" dy="1.3" textLength="16.2" lengthAdjust="spacingAndGlyphs">313-11616</text>
<text transform="translate(160.10 197.33) rotate(66.5)" font-size="4.3" font-weight="bold" fill="#ff7f9c" dy="1.3" textLength="14.9" lengthAdjust="spacingAndGlyphs">313-11537</text>
<text transform="translate(157.87 199.10) rotate(68.4)" font-size="4.3" font-weight="bold" fill="#ff7f9c" dy="1.3" textLength="16.4" lengthAdjust="spacingAndGlyphs">313-11130</text>
<text transform="translate(156.26 202.75) rotate(70.2)" font-size="4.3" font-weight="bold" fill="#b56fe0" dy="1.3" textLength="14.0" lengthAdjust="spacingAndGlyphs">313-10034</text>
<text transform="translate(153.73 204.16) rotate(72.1)" font-size="4.3" font-weight="bold" fill="#b56fe0" dy="1.3" textLength="14.1" lengthAdjust="spacingAndGlyphs">313-10034</text>
<text transform="translate(63.75 216.63) rotate(303.0)" font-size="4.3" font-weight="bold" fill="#b56fe0" dy="1.3" textLength="15.2" lengthAdjust="spacingAndGlyphs">313-10123</text>
<text transform="translate(59.53 215.64) rotate(305.0)" font-size="4.3" font-weight="bold" fill="#b56fe0" dy="1.3" textLength="16.6" lengthAdjust="spacingAndGlyphs">313-11855</text>
<text transform="translate(59.89 208.39) rotate(307.0)" font-size="4.3" font-weight="bold" fill="#b56fe0" dy="1.3" textLength="15.1" lengthAdjust="spacingAndGlyphs">313-11067</text>
<text transform="translate(55.90 207.19) rotate(309.0)" font-size="4.3" font-weight="bold" fill="#b56fe0" dy="1.3" textLength="15.8" lengthAdjust="spacingAndGlyphs">313-11901</text>
<text transform="translate(57.69 199.41) rotate(310.9)" font-size="4.3" font-weight="bold" fill="#ff7f9c" dy="1.3" textLength="16.5" lengthAdjust="spacingAndGlyphs">313-11234</text>
<text transform="translate(56.57 195.71) rotate(312.7)" font-size="4.3" font-weight="bold" fill="#ff7f9c" dy="1.3" textLength="15.3" lengthAdjust="spacingAndGlyphs">313-10759</text>
<text transform="translate(54.39 193.27) rotate(314.5)" font-size="4.3" font-weight="bold" fill="#ff7f9c" dy="1.3" textLength="15.3" lengthAdjust="spacingAndGlyphs">313-10349</text>
<text transform="translate(50.43 192.54) rotate(316.4)" font-size="4.3" font-weight="bold" fill="#ff7f9c" dy="1.3" textLength="14.5" lengthAdjust="spacingAndGlyphs">313-10151</text>
<text transform="translate(47.19 190.96) rotate(318.2)" font-size="4.3" font-weight="bold" fill="#ff7f9c" dy="1.3" textLength="15.9" lengthAdjust="spacingAndGlyphs">313-11704</text>
<text transform="translate(48.40 185.53) rotate(320.0)" font-size="4.3" font-weight="bold" fill="#ff7f9c" dy="1.3" textLength="15.4" lengthAdjust="spacingAndGlyphs">313-10835</text>
<text transform="translate(44.49 184.49) rotate(321.8)" font-size="4.3" font-weight="bold" fill="#ff7f9c" dy="1.3" textLength="16.2" lengthAdjust="spacingAndGlyphs">313-10909</text>
<text transform="translate(41.24 182.78) rotate(323.6)" font-size="4.3" font-weight="bold" fill="#ff7f9c" dy="1.3" textLength="15.1" lengthAdjust="spacingAndGlyphs">313-11644</text>
<text transform="translate(43.11 177.41) rotate(325.5)" font-size="4.3" font-weight="bold" fill="#ff7f9c" dy="1.3" textLength="14.4" lengthAdjust="spacingAndGlyphs">313-10579</text>
<text transform="translate(35.96 178.19) rotate(327.3)" font-size="4.3" font-weight="bold" fill="#ff7f9c" dy="1.3" textLength="16.9" lengthAdjust="spacingAndGlyphs">313-10318</text>
<text transform="translate(36.81 173.70) rotate(329.1)" font-size="4.3" font-weight="bold" fill="#ff7f9c" dy="1.3" textLength="15.5" lengthAdjust="spacingAndGlyphs">313-10286</text>
<text transform="translate(39.05 168.64) rotate(330.9)" font-size="4.3" font-weight="bold" fill="#787878" dy="1.3" textLength="15.3" lengthAdjust="spacingAndGlyphs">313-10843</text>
<text transform="translate(39.97 164.57) rotate(332.8)" font-size="4.3" font-weight="bold" fill="#787878" dy="1.3" textLength="15.2" lengthAdjust="spacingAndGlyphs">313-10472</text>
<text transform="translate(34.81 163.57) rotate(334.6)" font-size="4.3" font-weight="bold" fill="#787878" dy="1.3" textLength="16.4" lengthAdjust="spacingAndGlyphs">313-11907</text>
<text transform="translate(35.44 159.75) rotate(336.4)" font-size="4.3" font-weight="bold" fill="#787878" dy="1.3" textLength="15.5" lengthAdjust="spacingAndGlyphs">313-10559</text>
<text transform="translate(35.65 156.25) rotate(338.2)" font-size="4.3" font-weight="bold" fill="#787878" dy="1.3" textLength="13.6" lengthAdjust="spacingAndGlyphs">313-11176</text>
<text transform="translate(33.19 153.81) rotate(340.1)" font-size="4.3" font-weight="bold" fill="#787878" dy="1.3" textLength="15.6" lengthAdjust="spacingAndGlyphs">313-10237</text>
<text transform="translate(33.41 150.40) rotate(341.9)" font-size="4.3" font-weight="bold" fill="#787878" dy="1.3" textLength="15.2" lengthAdjust="spacingAndGlyphs">313-10573</text>
<text transform="translate(29.32 148.33) rotate(343.8)" font-size="4.3" font-weight="bold" fill="#787878" dy="1.3" textLength="16.2" lengthAdjust="spacingAndGlyphs">313-11543</text>
<text transform="translate(30.77 144.61) rotate(345.6)" font-size="4.3" font-weight="bold" fill="#787878" dy="1.3" textLength="16.7" lengthAdjust="spacingAndGlyphs">313-10209</text>
<text transform="translate(30.71 141.38) rotate(347.4)" font-size="4.3" font-weight="bold" fill="#787878" dy="1.3" textLength="15.0" lengthAdjust="spacingAndGlyphs">313-10155</text>
<text transform="translate(28.50 138.61) rotate(349.2)" font-size="4.3" font-weight="bold" fill="#787878" dy="1.3" textLength="14.8" lengthAdjust="spacingAndGlyphs">313-11054</text>
<text transform="translate(27.35 135.56) rotate(351.1)" font-size="4.3" font-weight="bold" fill="#787878" dy="1.3" textLength="15.2" lengthAdjust="spacingAndGlyphs">313-11541</text>
<text transform="translate(20.36 133.11) rotate(353.0)" font-size="4.3" font-weight="bold" fill="#ff7f9c" dy="1.3" textLength="16.9" lengthAdjust="spacingAndGlyphs">313-11317</text>
<text transform="translate(25.12 129.09) rotate(354.9)" font-size="4.3" font-weight="bold" fill="#ff7f9c" dy="1.3" textLength="15.1" lengthAdjust="spacingAndGlyphs">313-10637</text>
<text transform="translate(22.94 125.80) rotate(356.8)" font-size="4.3" font-weight="bold" fill="#ff7f9c" dy="1.3" textLength="16.7" lengthAdjust="spacingAndGlyphs">313-10370</text>
<text transform="translate(22.53 122.34) rotate(358.7)" font-size="4.3" font-weight="bold" fill="#ff7f9c" dy="1.3" textLength="15.8" lengthAdjust="spacingAndGlyphs">313-11928</text>
<text transform="translate(23.48 118.88) rotate(360.6)" font-size="4.3" font-weight="bold" fill="#ff7f9c" dy="1.3" textLength="16.4" lengthAdjust="spacingAndGlyphs">313-10647</text>
<text transform="translate(22.44 115.38) rotate(362.5)" font-size="4.3" font-weight="bold" fill="#ff7f9c" dy="1.3" textLength="13.7" lengthAdjust="spacingAndGlyphs">313-10438</text>
<text transform="translate(19.66 111.67) rotate(364.5)" font-size="4.3" font-weight="bold" fill="#ff7f9c" dy="1.3" textLength="16.8" lengthAdjust="spacingAndGlyphs">313-11932</text>
<text transform="translate(22.29 108.36) rotate(366.4)" font-size="4.3" font-weight="bold" fill="#ff7f9c" dy="1.3" textLength="14.6" lengthAdjust="spacingAndGlyphs">313-11250</text>
<text transform="translate(25.88 105.34) rotate(368.3)" font-size="4.3" font-weight="bold" fill="#ff7f9c" dy="1.3" textLength="14.9" lengthAdjust="spacingAndGlyphs">313-10577</text>
<text transform="translate(26.77 102.04) rotate(370.2)" font-size="4.3" font-weight="bold" fill="#ff7f9c" dy="1.3" textLength="13.6" lengthAdjust="spacingAndGlyphs">313-10854</text>
<text transform="translate(24.45 98.08) rotate(372.1)" font-size="4.3" font-weight="bold" fill="#ff7f9c" dy="1.3" textLength="14.4" lengthAdjust="spacingAndGlyphs">313-11841</text>
<text transform="translate(27.99 95.36) rotate(374.0)" font-size="4.3" font-weight="bold" fill="#ff7f9c" dy="1.3" textLength="13.8" lengthAdjust="spacingAndGlyphs">313-10470</text>
<text transform="translate(28.88 92.12) rotate(375.9)" font-size="4.3" font-weight="bold" fill="#787878" dy="1.3" textLength="16.8" lengthAdjust="spacingAndGlyphs">313-11510</text>
<text transform="translate(31.18 89.37) rotate(377.8)" font-size="4.3" font-weight="bold" fill="#787878" dy="1.3" textLength="13.8" lengthAdjust="spacingAndGlyphs">313-11077</text>
<text transform="translate(30.44 85.63) rotate(379.7)" font-size="4.3" font-weight="bold" fill="#787878" dy="1.3" textLength="13.9" lengthAdjust="spacingAndGlyphs">313-11294</text>
<text transform="translate(29.39 81.62) rotate(381.6)" font-size="4.3" font-weight="bold" fill="#787878" dy="1.3" textLength="16.4" lengthAdjust="spacingAndGlyphs">313-11292</text>
<text transform="translate(32.59 79.29) rotate(383.4)" font-size="4.3" font-weight="bold" fill="#787878" dy="1.3" textLength="16.4" lengthAdjust="spacingAndGlyphs">313-11803</text>
<text transform="translate(34.50 76.49) rotate(385.3)" font-size="4.3" font-weight="bold" fill="#787878" dy="1.3" textLength="13.5" lengthAdjust="spacingAndGlyphs">313-10577</text>
<text transform="translate(33.84 72.40) rotate(387.2)" font-size="4.3" font-weight="bold" fill="#787878" dy="1.3" textLength="16.9" lengthAdjust="spacingAndGlyphs">313-11417</text>
<text transform="translate(39.25 71.51) rotate(389.1)" font-size="4.3" font-weight="bold" fill="#787878" dy="1.3" textLength="13.7" lengthAdjust="spacingAndGlyphs">313-10548</text>
<text transform="translate(35.59 65.52) rotate(390.9)" font-size="4.3" font-weight="bold" fill="#ff7f9c" dy="1.3" textLength="16.9" lengthAdjust="spacingAndGlyphs">313-10945</text>
<text transform="translate(37.44 62.60) rotate(392.8)" font-size="4.3" font-weight="bold" fill="#ff7f9c" dy="1.3" textLength="14.4" lengthAdjust="spacingAndGlyphs">313-11118</text>
<text transform="translate(39.48 59.82) rotate(394.7)" font-size="4.3" font-weight="bold" fill="#ff7f9c" dy="1.3" textLength="15.5" lengthAdjust="spacingAndGlyphs">313-10357</text>
<text transform="translate(44.10 58.96) rotate(396.5)" font-size="4.3" font-weight="bold" fill="#ff7f9c" dy="1.3" textLength="14.3" lengthAdjust="spacingAndGlyphs">313-11961</text>
<text transform="translate(45.01 55.41) rotate(398.4)" font-size="4.3" font-weight="bold" fill="#ff7f9c" dy="1.3" textLength="14.1" lengthAdjust="spacingAndGlyphs">313-10306</text>
<text transform="translate(45.23 51.16) rotate(400.3)" font-size="4.3" font-weight="bold" fill="#ff7f9c" dy="1.3" textLength="16.7" lengthAdjust="spacingAndGlyphs">313-10364</text>
<text transform="translate(48.32 49.28) rotate(402.1)" font-size="4.3" font-weight="bold" fill="#5ee6ee" dy="1.3" textLength="15.9" lengthAdjust="spacingAndGlyphs">313-10957</text>
<text transform="translate(51.32 47.40) rotate(404.0)" font-size="4.3" font-weight="bold" fill="#5ee6ee" dy="1.3" textLength="15.9" lengthAdjust="spacingAndGlyphs">313-11324</text>
<text transform="translate(53.18 44.42) rotate(405.9)" font-size="4.3" font-weight="bold" fill="#5ee6ee" dy="1.3" textLength="13.5" lengthAdjust="spacingAndGlyphs">313-10802</text>
<text transform="translate(57.80 44.41) rotate(407.7)" font-size="4.3" font-weight="bold" fill="#ff7f9c" dy="1.3" textLength="13.7" lengthAdjust="spacingAndGlyphs">313-11555</text>
<text transform="translate(57.43 38.84) rotate(409.6)" font-size="4.3" font-weight="bold" fill="#ff7f9c" dy="1.3" textLength="15.7" lengthAdjust="spacingAndGlyphs">313-10636</text>
<text transform="translate(63.03 40.30) rotate(411.5)" font-size="4.3" font-weight="bold" fill="#ff7f9c" dy="1.3" textLength="14.2" lengthAdjust="spacingAndGlyphs">313-11684</text>
<text transform="translate(65.64 38.25) rotate(413.3)" font-size="4.3" font-weight="bold" fill="#ff7f9c" dy="1.3" textLength="14.0" lengthAdjust="spacingAndGlyphs">313-10300</text>
<text transform="translate(66.38 33.50) rotate(415.2)" font-size="4.3" font-weight="bold" fill="#ff7f9c" dy="1.3" textLength="13.7" lengthAdjust="spacingAndGlyphs">313-11967</text>
<text transform="translate(70.33 33.29) rotate(417.1)" font-size="4.3" font-weight="bold" fill="#ff7f9c" dy="1.3" textLength="14.0" lengthAdjust="spacingAndGlyphs">313-10438</text>
<text transform="translate(73.32 31.73) rotate(418.9)" font-size="4.3" font-weight="bold" fill="#8575ff" dy="1.3" textLength="14.8" lengthAdjust="spacingAndGlyphs">313-10219</text>
<text transform="translate(77.62 32.59) rotate(420.8)" font-size="4.3" font-weight="bold" fill="#8575ff" dy="1.3" textLength="15.0" lengthAdjust="spacingAndGlyphs">313-10372</text>
<text transform="translate(78.88 27.97) rotate(422.6)" font-size="4.3" font-weight="bold" fill="#8575ff" dy="1.3" textLength="17.0" lengthAdjust="spacingAndGlyphs">313-10575</text>
<text transform="translate(83.02 28.84) rotate(424.5)" font-size="4.3" font-weight="bold" fill="#8575ff" dy="1.3" textLength="13.9" lengthAdjust="spacingAndGlyphs">313-10235</text>
<text transform="translate(86.40 28.41) rotate(426.4)" font-size="4.3" font-weight="bold" fill="#8575ff" dy="1.3" textLength="14.0" lengthAdjust="spacingAndGlyphs">313-10259</text>
<text transform="translate(88.42 24.72) rotate(428.2)" font-size="4.3" font-weight="bold" fill="#8575ff" dy="1.3" textLength="14.8" lengthAdjust="spacingAndGlyphs">313-11920</text>
<text transform="translate(91.55 23.61) rotate(430.1)" font-size="4.3" font-weight="bold" fill="#8575ff" dy="1.3" textLength="16.7" lengthAdjust="spacingAndGlyphs">313-10157</text>
<text transform="translate(93.59 19.16) rotate(431.9)" font-size="4.3" font-weight="bold" fill="#8575ff" dy="1.3" textLength="16.8" lengthAdjust="spacingAndGlyphs">313-10015</text>
<text transform="translate(97.27 19.48) rotate(433.8)" font-size="4.3" font-weight="bold" fill="#8575ff" dy="1.3" textLength="16.8" lengthAdjust="spacingAndGlyphs">313-10291</text>
<text transform="translate(100.44 18.20) rotate(435.6)" font-size="4.3" font-weight="bold" fill="#8575ff" dy="1.3" textLength="16.9" lengthAdjust="spacingAndGlyphs">313-10503</text>
<text transform="translate(104.53 20.90) rotate(437.5)" font-size="4.3" font-weight="bold" fill="#8575ff" dy="1.3" textLength="13.7" lengthAdjust="spacingAndGlyphs">313-11118</text>
<text transform="translate(106.93 15.84) rotate(439.4)" font-size="4.3" font-weight="bold" fill="#8575ff" dy="1.3" textLength="16.8" lengthAdjust="spacingAndGlyphs">313-10993</text>
<text transform="translate(111.22 21.15) rotate(441.2)" font-size="4.3" font-weight="bold" fill="#8575ff" dy="1.3" textLength="13.9" lengthAdjust="spacingAndGlyphs">313-11734</text>
<text transform="translate(114.19 18.66) rotate(443.1)" font-size="4.3" font-weight="bold" fill="#8575ff" dy="1.3" textLength="14.6" lengthAdjust="spacingAndGlyphs">313-10043</text>
<text transform="translate(117.56 19.27) rotate(444.9)" font-size="4.3" font-weight="bold" fill="#8575ff" dy="1.3" textLength="16.1" lengthAdjust="spacingAndGlyphs">313-11087</text>
<text transform="translate(120.84 19.27) rotate(446.8)" font-size="4.3" font-weight="bold" fill="#8575ff" dy="1.3" textLength="16.1" lengthAdjust="spacingAndGlyphs">313-11601</text>
<text transform="translate(124.09 18.09) rotate(448.6)" font-size="4.3" font-weight="bold" fill="#8575ff" dy="1.3" textLength="15.0" lengthAdjust="spacingAndGlyphs">313-10834</text>
<text transform="translate(127.27 32.03) rotate(270.5)" font-size="4.3" font-weight="bold" fill="#8575ff" dy="1.3" textLength="15.1" lengthAdjust="spacingAndGlyphs">313-11102</text>
<text transform="translate(130.07 33.33) rotate(272.4)" font-size="4.3" font-weight="bold" fill="#8575ff" dy="1.3" textLength="14.6" lengthAdjust="spacingAndGlyphs">313-10305</text>
<text transform="translate(132.74 35.38) rotate(274.2)" font-size="4.3" font-weight="bold" fill="#8575ff" dy="1.3" textLength="15.4" lengthAdjust="spacingAndGlyphs">313-11705</text>
<text transform="translate(135.96 31.02) rotate(276.1)" font-size="4.3" font-weight="bold" fill="#8575ff" dy="1.3" textLength="14.8" lengthAdjust="spacingAndGlyphs">313-11549</text>
<text transform="translate(138.14 36.49) rotate(277.9)" font-size="4.3" font-weight="bold" fill="#ff7f9c" dy="1.3" textLength="15.6" lengthAdjust="spacingAndGlyphs">313-11910</text>
<text transform="translate(140.55 38.76) rotate(279.8)" font-size="4.3" font-weight="bold" fill="#ff7f9c" dy="1.3" textLength="16.1" lengthAdjust="spacingAndGlyphs">313-11531</text>
<text transform="translate(143.76 36.55) rotate(281.7)" font-size="4.3" font-weight="bold" fill="#ff7f9c" dy="1.3" textLength="14.1" lengthAdjust="spacingAndGlyphs">313-11973</text>
<text transform="translate(146.55 36.89) rotate(283.6)" font-size="4.3" font-weight="bold" fill="#ff7f9c" dy="1.3" textLength="16.5" lengthAdjust="spacingAndGlyphs">313-11964</text>
<text transform="translate(148.42 40.62) rotate(285.4)" font-size="4.3" font-weight="bold" fill="#8575ff" dy="1.3" textLength="14.1" lengthAdjust="spacingAndGlyphs">313-10544</text>
<text transform="translate(151.95 38.36) rotate(287.3)" font-size="4.3" font-weight="bold" fill="#ff7f9c" dy="1.3" textLength="16.4" lengthAdjust="spacingAndGlyphs">313-10267</text>
<text transform="translate(154.85 38.54) rotate(289.2)" font-size="4.3" font-weight="bold" fill="#ff7f9c" dy="1.3" textLength="13.7" lengthAdjust="spacingAndGlyphs">313-10116</text>
<text transform="translate(156.78 41.37) rotate(291.1)" font-size="4.3" font-weight="bold" fill="#ff7f9c" dy="1.3" textLength="14.9" lengthAdjust="spacingAndGlyphs">313-11787</text>
<text transform="translate(157.16 47.52) rotate(292.9)" font-size="4.3" font-weight="bold" fill="#ff7f9c" dy="1.3" textLength="14.1" lengthAdjust="spacingAndGlyphs">313-11174</text>
<text transform="translate(158.50 50.69) rotate(294.8)" font-size="4.3" font-weight="bold" fill="#ff7f9c" dy="1.3" textLength="13.5" lengthAdjust="spacingAndGlyphs">313-11781</text>
<text transform="translate(159.85 53.52) rotate(296.6)" font-size="4.3" font-weight="bold" fill="#ff7f9c" dy="1.3" textLength="13.9" lengthAdjust="spacingAndGlyphs">313-10826</text>
<text transform="translate(164.73 49.59) rotate(298.5)" font-size="4.3" font-weight="bold" fill="#ff7f9c" dy="1.3" textLength="17.0" lengthAdjust="spacingAndGlyphs">313-11403</text>
<text transform="translate(167.32 50.30) rotate(300.4)" font-size="4.3" font-weight="bold" fill="#5ee6ee" dy="1.3" textLength="14.8" lengthAdjust="spacingAndGlyphs">313-11427</text>
<text transform="translate(160.85 65.48) rotate(302.2)" font-size="4.3" font-weight="bold" fill="#5ee6ee" dy="1.3" textLength="16.2" lengthAdjust="spacingAndGlyphs">313-10189</text>
<text transform="translate(165.78 61.92) rotate(304.1)" font-size="4.3" font-weight="bold" fill="#5ee6ee" dy="1.3" textLength="15.1" lengthAdjust="spacingAndGlyphs">313-11189</text>
<text transform="translate(167.54 63.36) rotate(305.9)" font-size="4.3" font-weight="bold" fill="#5ee6ee" dy="1.3" textLength="15.0" lengthAdjust="spacingAndGlyphs">313-10299</text>
<text transform="translate(163.55 72.21) rotate(307.8)" font-size="4.3" font-weight="bold" fill="#5ee6ee" dy="1.3" textLength="15.6" lengthAdjust="spacingAndGlyphs">313-10447</text>
<text transform="translate(170.14 67.33) rotate(309.6)" font-size="4.3" font-weight="bold" fill="#5ee6ee" dy="1.3" textLength="14.6" lengthAdjust="spacingAndGlyphs">313-11037</text>
<text transform="translate(169.99 70.84) rotate(311.5)" font-size="4.3" font-weight="bold" fill="#5ee6ee" dy="1.3" textLength="15.5" lengthAdjust="spacingAndGlyphs">313-11304</text>
<text transform="translate(172.79 70.97) rotate(313.4)" font-size="4.3" font-weight="bold" fill="#5ee6ee" dy="1.3" textLength="14.6" lengthAdjust="spacingAndGlyphs">313-10734</text>
<text transform="translate(172.76 74.08) rotate(315.2)" font-size="4.3" font-weight="bold" fill="#5ee6ee" dy="1.3" textLength="16.0" lengthAdjust="spacingAndGlyphs">313-11578</text>
<text transform="translate(172.53 77.19) rotate(317.1)" font-size="4.3" font-weight="bold" fill="#ff7f9c" dy="1.3" textLength="16.9" lengthAdjust="spacingAndGlyphs">313-11917</text>
<text transform="translate(176.26 76.64) rotate(318.9)" font-size="4.3" font-weight="bold" fill="#5ee6ee" dy="1.3" textLength="14.7" lengthAdjust="spacingAndGlyphs">313-11414</text>
<text transform="translate(176.28 79.38) rotate(320.8)" font-size="4.3" font-weight="bold" fill="#5ee6ee" dy="1.3" textLength="16.4" lengthAdjust="spacingAndGlyphs">313-10587</text>
<text transform="translate(177.77 80.86) rotate(322.6)" font-size="4.3" font-weight="bold" fill="#ff7f9c" dy="1.3" textLength="16.9" lengthAdjust="spacingAndGlyphs">313-10609</text>
<text transform="translate(180.20 81.70) rotate(324.5)" font-size="4.3" font-weight="bold" fill="#ff7f9c" dy="1.3" textLength="14.4" lengthAdjust="spacingAndGlyphs">313-10252</text>
<text transform="translate(185.84 80.51) rotate(326.4)" font-size="4.3" font-weight="bold" fill="#5ee6ee" dy="1.3" textLength="15.6" lengthAdjust="spacingAndGlyphs">313-10453</text>
<text transform="translate(193.10 78.73) rotate(328.2)" font-size="4.3" font-weight="bold" fill="#5ee6ee" dy="1.3" textLength="16.1" lengthAdjust="spacingAndGlyphs">313-10698</text>
<text transform="translate(185.91 85.80) rotate(330.1)" font-size="4.3" font-weight="bold" fill="#787878" dy="1.3" textLength="16.1" lengthAdjust="spacingAndGlyphs">313-10509</text>
<text transform="translate(197.73 82.01) rotate(331.9)" font-size="4.3" font-weight="bold" fill="#787878" dy="1.3" textLength="14.5" lengthAdjust="spacingAndGlyphs">313-11980</text>
<text transform="translate(190.54 88.47) rotate(333.8)" font-size="4.3" font-weight="bold" fill="#787878" dy="1.3" textLength="14.4" lengthAdjust="spacingAndGlyphs">313-10265</text>
<text transform="translate(198.75 87.29) rotate(335.6)" font-size="4.3" font-weight="bold" fill="#ff7f9c" dy="1.3" textLength="15.2" lengthAdjust="spacingAndGlyphs">313-11088</text>
<text transform="translate(201.76 88.83) rotate(337.5)" font-size="4.3" font-weight="bold" fill="#ff7f9c" dy="1.3" textLength="16.3" lengthAdjust="spacingAndGlyphs">313-10360</text>
<text transform="translate(197.49 93.26) rotate(339.4)" font-size="4.3" font-weight="bold" fill="#ff7f9c" dy="1.3" textLength="17.0" lengthAdjust="spacingAndGlyphs">313-11082</text>
<text transform="translate(195.34 96.58) rotate(341.2)" font-size="4.3" font-weight="bold" fill="#5ee6ee" dy="1.3" textLength="15.3" lengthAdjust="spacingAndGlyphs">313-11265</text>
<text transform="translate(191.60 100.18) rotate(343.1)" font-size="4.3" font-weight="bold" fill="#5ee6ee" dy="1.3" textLength="13.7" lengthAdjust="spacingAndGlyphs">313-10854</text>
<text transform="translate(198.96 100.49) rotate(344.9)" font-size="4.3" font-weight="bold" fill="#5ee6ee" dy="1.3" textLength="15.0" lengthAdjust="spacingAndGlyphs">313-11735</text>
<text transform="translate(195.71 103.75) rotate(346.8)" font-size="4.3" font-weight="bold" fill="#ff7f9c" dy="1.3" textLength="15.6" lengthAdjust="spacingAndGlyphs">313-10596</text>
<text transform="translate(198.61 105.52) rotate(348.6)" font-size="4.3" font-weight="bold" fill="#ff7f9c" dy="1.3" textLength="13.7" lengthAdjust="spacingAndGlyphs">313-11749</text>
<text transform="translate(207.90 106.38) rotate(350.5)" font-size="4.3" font-weight="bold" fill="#ff7f9c" dy="1.3" textLength="14.8" lengthAdjust="spacingAndGlyphs">313-10432</text>
<text transform="translate(199.95 110.14) rotate(352.4)" font-size="4.3" font-weight="bold" fill="#5ee6ee" dy="1.3" textLength="16.9" lengthAdjust="spacingAndGlyphs">313-10750</text>
<text transform="translate(200.53 112.50) rotate(354.2)" font-size="4.3" font-weight="bold" fill="#ff7f9c" dy="1.3" textLength="15.3" lengthAdjust="spacingAndGlyphs">313-10113</text>
<text transform="translate(198.70 115.04) rotate(356.1)" font-size="4.3" font-weight="bold" fill="#5ee6ee" dy="1.3" textLength="15.4" lengthAdjust="spacingAndGlyphs">313-11810</text>
<text transform="translate(166.58 241.18) rotate(71.7)" font-size="4.3" font-weight="bold" fill="#4fd67e" dy="1.3" textLength="11.4" lengthAdjust="spacingAndGlyphs">313-11499</text>
<text transform="translate(165.09 246.95) rotate(73.1)" font-size="4.3" font-weight="bold" fill="#4fd67e" dy="1.3" textLength="13.6" lengthAdjust="spacingAndGlyphs">313-11456</text>
<text transform="translate(162.07 248.14) rotate(74.5)" font-size="4.3" font-weight="bold" fill="#4fd67e" dy="1.3" textLength="12.7" lengthAdjust="spacingAndGlyphs">313-10024</text>
<text transform="translate(159.04 249.39) rotate(75.9)" font-size="4.3" font-weight="bold" fill="#4fd67e" dy="1.3" textLength="11.9" lengthAdjust="spacingAndGlyphs">313-11034</text>
<text transform="translate(156.13 251.23) rotate(77.3)" font-size="4.3" font-weight="bold" fill="#4fd67e" dy="1.3" textLength="12.1" lengthAdjust="spacingAndGlyphs">313-10899</text>
<text transform="translate(153.09 252.70) rotate(78.7)" font-size="4.3" font-weight="bold" fill="#4fd67e" dy="1.3" textLength="12.1" lengthAdjust="spacingAndGlyphs">313-11334</text>
<text transform="translate(149.38 250.61) rotate(80.1)" font-size="4.3" font-weight="bold" fill="#4fd67e" dy="1.3" textLength="13.1" lengthAdjust="spacingAndGlyphs">313-10213</text>
<text transform="translate(147.16 257.56) rotate(81.5)" font-size="4.3" font-weight="bold" fill="#4fd67e" dy="1.3" textLength="12.8" lengthAdjust="spacingAndGlyphs">313-10299</text>
<text transform="translate(143.95 259.25) rotate(82.9)" font-size="4.3" font-weight="bold" fill="#4fd67e" dy="1.3" textLength="12.0" lengthAdjust="spacingAndGlyphs">313-10000</text>
<text transform="translate(140.16 255.66) rotate(84.2)" font-size="4.3" font-weight="bold" fill="#4fd67e" dy="1.3" textLength="12.1" lengthAdjust="spacingAndGlyphs">313-11258</text>
<text transform="translate(136.71 254.00) rotate(85.6)" font-size="4.3" font-weight="bold" fill="#4fd67e" dy="1.3" textLength="11.0" lengthAdjust="spacingAndGlyphs">313-11812</text>
<text transform="translate(133.86 262.35) rotate(87.0)" font-size="4.3" font-weight="bold" fill="#4fd67e" dy="1.3" textLength="11.2" lengthAdjust="spacingAndGlyphs">313-10656</text>
<text transform="translate(130.38 261.83) rotate(88.4)" font-size="4.3" font-weight="bold" fill="#4fd67e" dy="1.3" textLength="12.3" lengthAdjust="spacingAndGlyphs">313-10403</text>
<text transform="translate(126.91 257.87) rotate(89.8)" font-size="4.3" font-weight="bold" fill="#4fd67e" dy="1.3" textLength="11.1" lengthAdjust="spacingAndGlyphs">313-11103</text>
<text transform="translate(123.14 277.24) rotate(271.2)" font-size="4.3" font-weight="bold" fill="#4fd67e" dy="1.3" textLength="13.2" lengthAdjust="spacingAndGlyphs">313-10642</text>
<text transform="translate(119.35 276.27) rotate(272.6)" font-size="4.3" font-weight="bold" fill="#4fd67e" dy="1.3" textLength="12.6" lengthAdjust="spacingAndGlyphs">313-11510</text>
<text transform="translate(115.64 274.77) rotate(274.0)" font-size="4.3" font-weight="bold" fill="#4fd67e" dy="1.3" textLength="12.1" lengthAdjust="spacingAndGlyphs">313-11476</text>
<text transform="translate(111.66 276.75) rotate(275.4)" font-size="4.3" font-weight="bold" fill="#4fd67e" dy="1.3" textLength="13.5" lengthAdjust="spacingAndGlyphs">313-11869</text>
<text transform="translate(108.15 273.80) rotate(276.8)" font-size="4.3" font-weight="bold" fill="#4fd67e" dy="1.3" textLength="11.6" lengthAdjust="spacingAndGlyphs">313-10694</text>
<text transform="translate(105.24 267.61) rotate(278.2)" font-size="4.3" font-weight="bold" fill="#4fd67e" dy="1.3" textLength="13.0" lengthAdjust="spacingAndGlyphs">313-10247</text>
<text transform="translate(100.80 272.06) rotate(279.6)" font-size="4.3" font-weight="bold" fill="#4fd67e" dy="1.3" textLength="12.5" lengthAdjust="spacingAndGlyphs">313-11900</text>
<text transform="translate(98.44 264.51) rotate(281.0)" font-size="4.3" font-weight="bold" fill="#4fd67e" dy="1.3" textLength="12.1" lengthAdjust="spacingAndGlyphs">313-10973</text>
<text transform="translate(93.73 269.29) rotate(282.4)" font-size="4.3" font-weight="bold" fill="#4fd67e" dy="1.3" textLength="11.4" lengthAdjust="spacingAndGlyphs">313-10628</text>
<text transform="translate(91.07 264.50) rotate(283.8)" font-size="4.3" font-weight="bold" fill="#4fd67e" dy="1.3" textLength="11.9" lengthAdjust="spacingAndGlyphs">313-10388</text>
<text transform="translate(86.52 267.43) rotate(285.2)" font-size="4.3" font-weight="bold" fill="#4fd67e" dy="1.3" textLength="11.4" lengthAdjust="spacingAndGlyphs">313-10355</text>
<text transform="translate(83.96 263.00) rotate(286.6)" font-size="4.3" font-weight="bold" fill="#4fd67e" dy="1.3" textLength="12.8" lengthAdjust="spacingAndGlyphs">313-10173</text>
<text transform="translate(80.18 262.88) rotate(288.0)" font-size="4.3" font-weight="bold" fill="#4fd67e" dy="1.3" textLength="12.3" lengthAdjust="spacingAndGlyphs">313-11630</text>
<text transform="translate(75.96 263.87) rotate(289.4)" font-size="4.3" font-weight="bold" fill="#4fd67e" dy="1.3" textLength="12.1" lengthAdjust="spacingAndGlyphs">313-10015</text>
<text transform="translate(71.72 264.58) rotate(290.8)" font-size="4.3" font-weight="bold" fill="#4fd67e" dy="1.3" textLength="12.5" lengthAdjust="spacingAndGlyphs">313-10376</text>
<text transform="translate(71.49 255.18) rotate(292.1)" font-size="4.3" font-weight="bold" fill="#4fd67e" dy="1.3" textLength="12.4" lengthAdjust="spacingAndGlyphs">313-10286</text>
<text transform="translate(67.71 254.96) rotate(293.5)" font-size="4.3" font-weight="bold" fill="#4fd67e" dy="1.3" textLength="12.2" lengthAdjust="spacingAndGlyphs">313-11047</text>
<text transform="translate(65.73 250.72) rotate(294.9)" font-size="4.3" font-weight="bold" fill="#4fd67e" dy="1.3" textLength="12.9" lengthAdjust="spacingAndGlyphs">313-11200</text>
<text transform="translate(61.98 250.37) rotate(296.3)" font-size="4.3" font-weight="bold" fill="#4fd67e" dy="1.3" textLength="12.9" lengthAdjust="spacingAndGlyphs">313-11351</text>
<text transform="translate(57.99 250.35) rotate(297.7)" font-size="4.3" font-weight="bold" fill="#4fd67e" dy="1.3" textLength="11.9" lengthAdjust="spacingAndGlyphs">313-10587</text>
<text transform="translate(54.94 248.47) rotate(299.1)" font-size="4.3" font-weight="bold" fill="#4fd67e" dy="1.3" textLength="11.3" lengthAdjust="spacingAndGlyphs">313-11527</text>
<text transform="translate(51.26 247.67) rotate(300.5)" font-size="4.3" font-weight="bold" fill="#4fd67e" dy="1.3" textLength="13.1" lengthAdjust="spacingAndGlyphs">313-10171</text>
<text transform="translate(52.92 238.18) rotate(301.9)" font-size="4.3" font-weight="bold" fill="#4fd67e" dy="1.3" textLength="11.2" lengthAdjust="spacingAndGlyphs">313-11796</text>
<text transform="translate(47.60 240.10) rotate(303.3)" font-size="4.3" font-weight="bold" fill="#4fd67e" dy="1.3" textLength="13.3" lengthAdjust="spacingAndGlyphs">313-10657</text>
<text transform="translate(153.22 23.64) rotate(-74.5)" font-size="4.3" font-weight="bold" fill="#ff7f9c" dy="1.3" textLength="13.7" lengthAdjust="spacingAndGlyphs">313-10019</text>
<path d="M106.50 17.40C105.95 16.67 103.98 14.45 103.20 13.00C102.42 11.55 102.03 10.15 101.80 8.70C101.57 7.25 101.57 5.38 101.80 4.30C102.03 3.22 102.37 2.68 103.20 2.20C104.03 1.72 105.00 1.47 106.80 1.40C108.60 1.33 111.58 1.43 114.00 1.80C116.42 2.17 117.88 2.47 121.30 3.60C124.72 4.73 129.72 6.43 134.50 8.60C139.28 10.77 145.75 14.45 150.00 16.60C154.25 18.75 156.67 19.72 160.00 21.50C163.33 23.28 166.67 25.38 170.00 27.30C173.33 29.22 176.67 30.95 180.00 33.00C183.33 35.05 186.67 37.27 190.00 39.60C193.33 41.93 196.67 44.18 200.00 47.00C203.33 49.82 206.67 53.18 210.00 56.50C213.33 59.82 216.73 63.22 220.00 66.90C223.27 70.58 227.00 75.33 229.60 78.60C232.20 81.87 234.12 84.03 235.60 86.50C237.08 88.97 238.18 91.58 238.50 93.40C238.82 95.22 238.32 96.63 237.50 97.40C236.68 98.17 234.25 97.90 233.60 98.00" fill="none" stroke="#1c2b8f" stroke-width="2.3" stroke-linecap="round"/>
<path d="M20.00 52.50C19.75 51.97 19.10 50.02 18.50 49.30C17.90 48.58 17.23 48.25 16.40 48.20C15.57 48.15 14.27 48.50 13.50 49.00C12.73 49.50 12.62 49.63 11.80 51.20C10.98 52.77 9.47 55.27 8.60 58.40C7.73 61.53 7.27 66.40 6.60 70.00C5.93 73.60 5.15 76.67 4.60 80.00C4.05 83.33 3.67 86.67 3.30 90.00C2.93 93.33 2.67 95.83 2.40 100.00C2.13 104.17 1.87 109.17 1.70 115.00C1.53 120.83 1.38 128.33 1.40 135.00C1.42 141.67 1.55 149.17 1.80 155.00C2.05 160.83 2.38 165.83 2.90 170.00C3.42 174.17 4.15 176.13 4.90 180.00C5.65 183.87 6.30 188.82 7.40 193.20C8.50 197.58 10.13 203.35 11.50 206.30C12.87 209.25 14.35 210.37 15.60 210.90C16.85 211.43 18.02 210.48 19.00 209.50C19.98 208.52 20.75 206.58 21.50 205.00C22.25 203.42 23.02 201.57 23.50 200.00C23.98 198.43 24.25 196.33 24.40 195.60" fill="none" stroke="#111" stroke-width="1.5" stroke-linecap="round"/>
<path d="M46.50 244.60C45.82 244.73 43.50 244.58 42.40 245.40C41.30 246.22 40.17 248.13 39.90 249.50C39.63 250.87 39.97 251.95 40.80 253.60C41.63 255.25 43.13 257.48 44.90 259.40C46.67 261.32 48.93 263.32 51.40 265.10C53.87 266.88 56.95 268.72 59.70 270.10C62.45 271.48 65.17 272.38 67.90 273.40C70.63 274.42 73.25 275.25 76.10 276.20C78.95 277.15 81.32 277.63 85.00 279.10C88.68 280.57 93.82 283.47 98.20 285.00C102.58 286.53 106.92 287.42 111.30 288.30C115.68 289.18 120.12 289.87 124.50 290.30C128.88 290.73 133.22 291.08 137.60 290.90C141.98 290.72 147.28 289.97 150.80 289.20C154.32 288.43 156.73 287.43 158.70 286.30C160.67 285.17 162.05 283.82 162.60 282.40C163.15 280.98 162.10 278.57 162.00 277.80" fill="none" stroke="#3fd46f" stroke-width="1.7" stroke-linecap="round"/>
<path d="M240.00 151.60C240.25 152.33 241.28 154.10 241.50 156.00C241.72 157.90 241.58 160.50 241.30 163.00C241.02 165.50 240.52 168.50 239.80 171.00C239.08 173.50 238.13 175.67 237.00 178.00C235.87 180.33 234.50 182.83 233.00 185.00C231.50 187.17 229.83 188.83 228.00 191.00C226.17 193.17 224.07 195.75 222.00 198.00C219.93 200.25 218.08 201.80 215.60 204.50C213.12 207.20 209.95 211.15 207.10 214.20C204.25 217.25 201.35 219.95 198.50 222.80C195.65 225.65 192.48 228.82 190.00 231.30C187.52 233.78 185.22 236.27 183.60 237.70C181.98 239.13 181.02 240.07 180.30 239.90C179.58 239.73 179.30 237.77 179.30 236.70C179.30 235.63 180.13 234.03 180.30 233.50" fill="none" stroke="#e8141c" stroke-width="1.5" stroke-linecap="round"/>
<text x="73.8" y="17.9" font-size="7.6" fill="#4040b0" textLength="21.2" lengthAdjust="spacingAndGlyphs">ind1A</text>
<text x="212.6" y="57.8" font-size="8" fill="#5cd4e8" textLength="20.8" lengthAdjust="spacingAndGlyphs">ind1B</text>
<text x="23.5" y="68.8" font-size="8.4" fill="#ff3d94" textLength="15.3" lengthAdjust="spacingAndGlyphs">indx</text>
<text x="13.5" y="160.1" font-size="8.8" fill="#2a2a2a" textLength="15.4" lengthAdjust="spacingAndGlyphs">ind3</text>
<text x="199.9" y="207.2" font-size="8.3" fill="#8a52c4" textLength="15" lengthAdjust="spacingAndGlyphs">ind2</text>
<text transform="translate(167.6 14.8) rotate(36.5)" font-size="7.6" font-weight="bold" font-style="italic" fill="#1c2b8f" textLength="52" lengthAdjust="spacingAndGlyphs">indica _cluster 3</text>
<text transform="translate(208.3 240.6) rotate(-53.4)" font-size="7.4" font-weight="bold" font-style="italic" fill="#e8141c" textLength="53" lengthAdjust="spacingAndGlyphs">indica _cluster 1</text>
<text transform="translate(16.6 142.9) rotate(-90)" font-size="7.2" font-weight="bold" fill="#111" textLength="65.5" lengthAdjust="spacingAndGlyphs"><tspan font-style="italic">Indica</tspan> _cluster 1 + 3</text>
<text x="37.4" y="288.8" font-size="7.4" font-weight="bold" fill="#27b463" textLength="47.5" lengthAdjust="spacingAndGlyphs">aus_cluster 2</text>
<line x1="118.6" y1="294.5" x2="138.3" y2="294.5" stroke="#444" stroke-width="0.6"/>
<text x="128.4" y="299.3" text-anchor="middle" font-size="3.2" fill="#444">0.00</text>
<text x="21.6" y="24.8" font-size="12.6" font-weight="bold" fill="#111">a</text>
<rect x="314.00" y="26.20" width="2.02" height="4.58" fill="#00f800"/>
<rect x="314.00" y="30.73" width="2.02" height="79.32" fill="#ff0000"/>
<rect x="315.97" y="26.20" width="2.02" height="4.58" fill="#00f800"/>
<rect x="315.97" y="30.73" width="2.02" height="79.32" fill="#ff0000"/>
<rect x="317.94" y="26.20" width="2.02" height="16.81" fill="#0000ff"/>
<rect x="317.94" y="42.96" width="2.02" height="5.08" fill="#00f800"/>
<rect x="317.94" y="47.99" width="2.02" height="62.06" fill="#ff0000"/>
<rect x="319.92" y="26.20" width="2.02" height="8.27" fill="#0000ff"/>
<rect x="319.92" y="34.42" width="2.02" height="5.08" fill="#00f800"/>
<rect x="319.92" y="39.45" width="2.02" height="70.60" fill="#ff0000"/>
<rect x="321.89" y="26.20" width="2.02" height="17.65" fill="#0000ff"/>
<rect x="321.89" y="43.80" width="2.02" height="66.25" fill="#ff0000"/>
<rect x="323.86" y="26.20" width="2.02" height="13.96" fill="#0000ff"/>
<rect x="323.86" y="40.11" width="2.02" height="69.94" fill="#ff0000"/>
<rect x="325.83" y="26.20" width="2.02" height="5.92" fill="#0000ff"/>
<rect x="325.83" y="32.07" width="2.02" height="77.98" fill="#ff0000"/>
<rect x="327.80" y="26.20" width="2.02" height="2.65" fill="#0000ff"/>
<rect x="327.80" y="28.80" width="2.02" height="81.25" fill="#ff0000"/>
<rect x="329.78" y="26.20" width="2.02" height="7.59" fill="#0000ff"/>
<rect x="329.78" y="33.74" width="2.02" height="2.56" fill="#00f800"/>
<rect x="329.78" y="36.26" width="2.02" height="73.79" fill="#ff0000"/>
<rect x="331.75" y="26.20" width="2.02" height="5.49" fill="#0000ff"/>
<rect x="331.75" y="31.64" width="2.02" height="2.56" fill="#00f800"/>
<rect x="331.75" y="34.16" width="2.02" height="75.89" fill="#ff0000"/>
<rect x="333.72" y="26.20" width="2.02" height="21.84" fill="#0000ff"/>
<rect x="333.72" y="47.99" width="2.02" height="5.08" fill="#00f800"/>
<rect x="333.72" y="53.02" width="2.02" height="57.03" fill="#ff0000"/>
<rect x="335.69" y="26.20" width="2.02" height="13.55" fill="#0000ff"/>
<rect x="335.69" y="39.70" width="2.02" height="5.08" fill="#00f800"/>
<rect x="335.69" y="44.72" width="2.02" height="65.33" fill="#ff0000"/>
<rect x="337.67" y="26.20" width="2.02" height="15.97" fill="#0000ff"/>
<rect x="337.67" y="42.12" width="2.02" height="2.56" fill="#00f800"/>
<rect x="337.67" y="44.64" width="2.02" height="65.41" fill="#ff0000"/>
<rect x="339.64" y="26.20" width="2.02" height="6.97" fill="#0000ff"/>
<rect x="339.64" y="33.12" width="2.02" height="2.56" fill="#00f800"/>
<rect x="339.64" y="35.64" width="2.02" height="74.41" fill="#ff0000"/>
<rect x="341.61" y="26.20" width="2.02" height="8.09" fill="#00f800"/>
<rect x="341.61" y="34.24" width="2.02" height="8.43" fill="#0000ff"/>
<rect x="341.61" y="42.62" width="2.02" height="67.43" fill="#ff0000"/>
<rect x="343.58" y="26.20" width="2.02" height="8.09" fill="#00f800"/>
<rect x="343.58" y="34.24" width="2.02" height="5.95" fill="#0000ff"/>
<rect x="343.58" y="40.15" width="2.02" height="69.90" fill="#ff0000"/>
<rect x="345.55" y="26.20" width="2.02" height="23.51" fill="#0000ff"/>
<rect x="345.55" y="49.66" width="2.02" height="4.07" fill="#00f800"/>
<rect x="345.55" y="53.69" width="2.02" height="56.36" fill="#ff0000"/>
<rect x="347.53" y="26.20" width="2.02" height="9.96" fill="#0000ff"/>
<rect x="347.53" y="36.11" width="2.02" height="4.07" fill="#00f800"/>
<rect x="347.53" y="40.14" width="2.02" height="69.91" fill="#ff0000"/>
<rect x="349.50" y="26.20" width="2.02" height="27.70" fill="#0000ff"/>
<rect x="349.50" y="53.85" width="2.02" height="56.20" fill="#ff0000"/>
<rect x="351.47" y="26.20" width="2.02" height="18.31" fill="#0000ff"/>
<rect x="351.47" y="44.46" width="2.02" height="65.59" fill="#ff0000"/>
<rect x="353.44" y="26.20" width="2.02" height="4.24" fill="#0000ff"/>
<rect x="353.44" y="30.39" width="2.02" height="79.66" fill="#ff0000"/>
<rect x="355.41" y="26.20" width="2.02" height="1.90" fill="#0000ff"/>
<rect x="355.41" y="28.05" width="2.02" height="82.00" fill="#ff0000"/>
<rect x="357.39" y="26.20" width="2.02" height="2.56" fill="#0000ff"/>
<rect x="357.39" y="28.71" width="2.02" height="2.06" fill="#00f800"/>
<rect x="357.39" y="30.73" width="2.02" height="79.32" fill="#ff0000"/>
<rect x="359.36" y="26.20" width="2.02" height="1.19" fill="#0000ff"/>
<rect x="359.36" y="27.34" width="2.02" height="2.06" fill="#00f800"/>
<rect x="359.36" y="29.35" width="2.02" height="80.70" fill="#ff0000"/>
<rect x="361.33" y="26.20" width="2.02" height="41.11" fill="#0000ff"/>
<rect x="361.33" y="67.26" width="2.02" height="42.79" fill="#ff0000"/>
<rect x="363.30" y="26.20" width="2.02" height="26.93" fill="#0000ff"/>
<rect x="363.30" y="53.08" width="2.02" height="56.97" fill="#ff0000"/>
<rect x="365.27" y="26.20" width="2.02" height="23.51" fill="#7a0c98"/>
<rect x="365.27" y="49.66" width="2.02" height="60.39" fill="#ff0000"/>
<rect x="367.25" y="26.20" width="2.02" height="21.08" fill="#7a0c98"/>
<rect x="367.25" y="47.23" width="2.02" height="62.82" fill="#ff0000"/>
<rect x="369.22" y="26.20" width="2.02" height="37.76" fill="#0000ff"/>
<rect x="369.22" y="63.91" width="2.02" height="1.56" fill="#00f800"/>
<rect x="369.22" y="65.42" width="2.02" height="44.63" fill="#ff0000"/>
<rect x="371.19" y="26.20" width="2.02" height="17.94" fill="#0000ff"/>
<rect x="371.19" y="44.09" width="2.02" height="1.56" fill="#00f800"/>
<rect x="371.19" y="45.59" width="2.02" height="64.46" fill="#ff0000"/>
<rect x="373.16" y="26.20" width="2.02" height="25.19" fill="#7a0c98"/>
<rect x="373.16" y="51.34" width="2.02" height="58.71" fill="#ff0000"/>
<rect x="375.13" y="26.20" width="2.02" height="13.47" fill="#7a0c98"/>
<rect x="375.13" y="39.62" width="2.02" height="70.43" fill="#ff0000"/>
<rect x="377.11" y="26.20" width="2.02" height="1.73" fill="#0000ff"/>
<rect x="377.11" y="27.88" width="2.02" height="1.56" fill="#00f800"/>
<rect x="377.11" y="29.38" width="2.02" height="80.67" fill="#ff0000"/>
<rect x="379.08" y="26.20" width="2.02" height="1.35" fill="#0000ff"/>
<rect x="379.08" y="27.50" width="2.02" height="1.56" fill="#00f800"/>
<rect x="379.08" y="29.01" width="2.02" height="81.04" fill="#ff0000"/>
<rect x="381.05" y="26.20" width="2.02" height="11.78" fill="#7a0c98"/>
<rect x="381.05" y="37.93" width="2.02" height="2.56" fill="#00f800"/>
<rect x="381.05" y="40.45" width="2.02" height="69.60" fill="#ff0000"/>
<rect x="383.02" y="26.20" width="2.02" height="11.41" fill="#7a0c98"/>
<rect x="383.02" y="37.56" width="2.02" height="2.56" fill="#00f800"/>
<rect x="383.02" y="40.08" width="2.02" height="69.97" fill="#ff0000"/>
<rect x="385.00" y="26.20" width="2.02" height="27.70" fill="#7a0c98"/>
<rect x="385.00" y="53.85" width="2.02" height="1.56" fill="#00f800"/>
<rect x="385.00" y="55.36" width="2.02" height="54.69" fill="#ff0000"/>
<rect x="386.97" y="26.20" width="2.02" height="20.69" fill="#7a0c98"/>
<rect x="386.97" y="46.84" width="2.02" height="1.56" fill="#00f800"/>
<rect x="386.97" y="48.35" width="2.02" height="61.70" fill="#ff0000"/>
<rect x="388.94" y="26.20" width="2.02" height="35.25" fill="#7a0c98"/>
<rect x="388.94" y="61.40" width="2.02" height="1.56" fill="#00f800"/>
<rect x="388.94" y="62.90" width="2.02" height="47.15" fill="#ff0000"/>
<rect x="390.91" y="26.20" width="2.02" height="22.51" fill="#7a0c98"/>
<rect x="390.91" y="48.66" width="2.02" height="1.56" fill="#00f800"/>
<rect x="390.91" y="50.16" width="2.02" height="59.89" fill="#ff0000"/>
<rect x="392.88" y="26.20" width="2.02" height="41.11" fill="#0000ff"/>
<rect x="392.88" y="67.26" width="2.02" height="42.79" fill="#ff0000"/>
<rect x="394.86" y="26.20" width="2.02" height="40.53" fill="#0000ff"/>
<rect x="394.86" y="66.68" width="2.02" height="43.37" fill="#ff0000"/>
<rect x="396.83" y="26.20" width="2.02" height="29.38" fill="#7a0c98"/>
<rect x="396.83" y="55.53" width="2.02" height="54.52" fill="#ff0000"/>
<rect x="398.80" y="26.20" width="2.02" height="12.60" fill="#7a0c98"/>
<rect x="398.80" y="38.75" width="2.02" height="71.30" fill="#ff0000"/>
<rect x="400.77" y="26.20" width="2.02" height="29.38" fill="#7a0c98"/>
<rect x="400.77" y="55.53" width="2.02" height="54.52" fill="#ff0000"/>
<rect x="402.74" y="26.20" width="2.02" height="26.89" fill="#7a0c98"/>
<rect x="402.74" y="53.04" width="2.02" height="57.01" fill="#ff0000"/>
<rect x="404.72" y="26.20" width="2.02" height="8.43" fill="#0000ff"/>
<rect x="404.72" y="34.58" width="2.02" height="2.56" fill="#00f800"/>
<rect x="404.72" y="37.09" width="2.02" height="72.96" fill="#ff0000"/>
<rect x="406.69" y="26.20" width="2.02" height="4.86" fill="#0000ff"/>
<rect x="406.69" y="31.01" width="2.02" height="2.56" fill="#00f800"/>
<rect x="406.69" y="33.52" width="2.02" height="76.53" fill="#ff0000"/>
<rect x="408.66" y="26.20" width="2.02" height="19.32" fill="#7a0c98"/>
<rect x="408.66" y="45.47" width="2.02" height="64.58" fill="#ff0000"/>
<rect x="410.63" y="26.20" width="2.02" height="9.43" fill="#7a0c98"/>
<rect x="410.63" y="35.58" width="2.02" height="74.47" fill="#ff0000"/>
<rect x="412.60" y="26.20" width="2.02" height="8.43" fill="#0000ff"/>
<rect x="412.60" y="34.58" width="2.02" height="7.09" fill="#00f800"/>
<rect x="412.60" y="41.62" width="2.02" height="68.43" fill="#ff0000"/>
<rect x="414.58" y="26.20" width="2.02" height="3.99" fill="#0000ff"/>
<rect x="414.58" y="30.14" width="2.02" height="7.09" fill="#00f800"/>
<rect x="414.58" y="37.18" width="2.02" height="72.87" fill="#ff0000"/>
<rect x="416.55" y="26.20" width="2.02" height="37.76" fill="#7a0c98"/>
<rect x="416.55" y="63.91" width="2.02" height="46.14" fill="#ff0000"/>
<rect x="418.52" y="26.20" width="2.02" height="22.11" fill="#7a0c98"/>
<rect x="418.52" y="48.26" width="2.02" height="61.79" fill="#ff0000"/>
<rect x="420.49" y="26.20" width="2.02" height="2.56" fill="#0000ff"/>
<rect x="420.49" y="28.71" width="2.02" height="81.34" fill="#ff0000"/>
<rect x="422.47" y="26.20" width="2.02" height="2.29" fill="#0000ff"/>
<rect x="422.47" y="28.44" width="2.02" height="81.61" fill="#ff0000"/>
<rect x="424.44" y="26.20" width="2.02" height="10.11" fill="#7a0c98"/>
<rect x="424.44" y="36.26" width="2.02" height="2.06" fill="#00f800"/>
<rect x="424.44" y="38.27" width="2.02" height="71.78" fill="#ff0000"/>
<rect x="426.41" y="26.20" width="2.02" height="5.16" fill="#7a0c98"/>
<rect x="426.41" y="31.31" width="2.02" height="2.06" fill="#00f800"/>
<rect x="426.41" y="33.32" width="2.02" height="76.73" fill="#ff0000"/>
<rect x="428.38" y="26.20" width="2.02" height="19.32" fill="#7a0c98"/>
<rect x="428.38" y="45.47" width="2.02" height="64.58" fill="#ff0000"/>
<rect x="430.35" y="26.20" width="2.02" height="14.49" fill="#7a0c98"/>
<rect x="430.35" y="40.64" width="2.02" height="69.41" fill="#ff0000"/>
<rect x="432.33" y="26.20" width="2.02" height="5.08" fill="#0000ff"/>
<rect x="432.33" y="31.23" width="2.02" height="3.07" fill="#00f800"/>
<rect x="432.33" y="34.24" width="2.02" height="75.81" fill="#ff0000"/>
<rect x="434.30" y="26.20" width="2.02" height="3.99" fill="#0000ff"/>
<rect x="434.30" y="30.14" width="2.02" height="3.07" fill="#00f800"/>
<rect x="434.30" y="33.16" width="2.02" height="76.89" fill="#ff0000"/>
<rect x="436.27" y="26.20" width="2.02" height="8.43" fill="#0000ff"/>
<rect x="436.27" y="34.58" width="2.02" height="3.07" fill="#00f800"/>
<rect x="436.27" y="37.60" width="2.02" height="72.45" fill="#ff0000"/>
<rect x="438.24" y="26.20" width="2.02" height="5.27" fill="#0000ff"/>
<rect x="438.24" y="31.42" width="2.02" height="3.07" fill="#00f800"/>
<rect x="438.24" y="34.44" width="2.02" height="75.61" fill="#ff0000"/>
<rect x="440.21" y="26.20" width="2.02" height="39.44" fill="#7a0c98"/>
<rect x="440.21" y="65.59" width="2.02" height="44.46" fill="#ff0000"/>
<rect x="442.19" y="26.20" width="2.02" height="28.75" fill="#7a0c98"/>
<rect x="442.19" y="54.90" width="2.02" height="55.15" fill="#ff0000"/>
<rect x="444.16" y="26.20" width="2.02" height="29.38" fill="#7a0c98"/>
<rect x="444.16" y="55.53" width="2.02" height="54.52" fill="#ff0000"/>
<rect x="446.13" y="26.20" width="2.02" height="12.89" fill="#7a0c98"/>
<rect x="446.13" y="39.04" width="2.02" height="71.01" fill="#ff0000"/>
<rect x="448.10" y="26.20" width="2.02" height="7.59" fill="#0000ff"/>
<rect x="448.10" y="33.74" width="2.02" height="15.97" fill="#7a0c98"/>
<rect x="448.10" y="49.66" width="2.02" height="60.39" fill="#ff0000"/>
<rect x="450.07" y="26.20" width="2.02" height="3.34" fill="#0000ff"/>
<rect x="450.07" y="29.49" width="2.02" height="6.99" fill="#7a0c98"/>
<rect x="450.07" y="36.42" width="2.02" height="73.63" fill="#ff0000"/>
<rect x="452.05" y="26.20" width="2.02" height="10.11" fill="#0000ff"/>
<rect x="452.05" y="36.26" width="2.02" height="3.57" fill="#00f800"/>
<rect x="452.05" y="39.78" width="2.02" height="70.27" fill="#ff0000"/>
<rect x="454.02" y="26.20" width="2.02" height="5.32" fill="#0000ff"/>
<rect x="454.02" y="31.47" width="2.02" height="3.57" fill="#00f800"/>
<rect x="454.02" y="34.98" width="2.02" height="75.07" fill="#ff0000"/>
<rect x="455.99" y="26.20" width="2.02" height="27.70" fill="#7a0c98"/>
<rect x="455.99" y="53.85" width="2.02" height="2.06" fill="#00f800"/>
<rect x="455.99" y="55.87" width="2.02" height="54.18" fill="#ff0000"/>
<rect x="457.96" y="26.20" width="2.02" height="22.40" fill="#7a0c98"/>
<rect x="457.96" y="48.55" width="2.02" height="2.06" fill="#00f800"/>
<rect x="457.96" y="50.56" width="2.02" height="59.49" fill="#ff0000"/>
<rect x="459.93" y="26.20" width="2.02" height="19.32" fill="#7a0c98"/>
<rect x="459.93" y="45.47" width="2.02" height="64.58" fill="#ff0000"/>
<rect x="461.91" y="26.20" width="2.02" height="12.70" fill="#7a0c98"/>
<rect x="461.91" y="38.85" width="2.02" height="71.20" fill="#ff0000"/>
<rect x="463.88" y="26.20" width="2.02" height="5.92" fill="#0000ff"/>
<rect x="463.88" y="32.07" width="2.02" height="77.98" fill="#ff0000"/>
<rect x="465.85" y="26.20" width="2.02" height="3.50" fill="#0000ff"/>
<rect x="465.85" y="29.65" width="2.02" height="80.40" fill="#ff0000"/>
<rect x="467.82" y="26.20" width="2.02" height="27.70" fill="#7a0c98"/>
<rect x="467.82" y="53.85" width="2.02" height="56.20" fill="#ff0000"/>
<rect x="469.80" y="26.20" width="2.02" height="20.83" fill="#7a0c98"/>
<rect x="469.80" y="46.98" width="2.02" height="63.07" fill="#ff0000"/>
<rect x="471.77" y="26.20" width="2.02" height="21.00" fill="#0000ff"/>
<rect x="471.77" y="47.15" width="2.02" height="8.60" fill="#00f800"/>
<rect x="471.77" y="55.70" width="2.02" height="54.35" fill="#ff0000"/>
<rect x="473.74" y="26.20" width="2.02" height="14.13" fill="#0000ff"/>
<rect x="473.74" y="40.28" width="2.02" height="8.60" fill="#00f800"/>
<rect x="473.74" y="48.82" width="2.02" height="61.23" fill="#ff0000"/>
<rect x="475.71" y="26.20" width="2.02" height="23.51" fill="#7a0c98"/>
<rect x="475.71" y="49.66" width="2.02" height="60.39" fill="#ff0000"/>
<rect x="477.68" y="26.20" width="2.02" height="13.66" fill="#7a0c98"/>
<rect x="477.68" y="39.81" width="2.02" height="70.24" fill="#ff0000"/>
<rect x="479.66" y="26.20" width="2.02" height="31.06" fill="#7a0c98"/>
<rect x="479.66" y="57.21" width="2.02" height="52.84" fill="#ff0000"/>
<rect x="481.63" y="26.20" width="2.02" height="27.23" fill="#7a0c98"/>
<rect x="481.63" y="53.38" width="2.02" height="56.67" fill="#ff0000"/>
<rect x="483.60" y="26.20" width="4.12" height="83.85" fill="#00f800"/>
<rect x="487.67" y="26.20" width="4.12" height="83.85" fill="#00f800"/>
<rect x="491.75" y="26.20" width="4.12" height="83.85" fill="#00f800"/>
<rect x="495.82" y="26.20" width="4.12" height="2.56" fill="#0000ff"/>
<rect x="495.82" y="28.71" width="4.12" height="81.34" fill="#00f800"/>
<rect x="499.89" y="26.20" width="4.12" height="83.85" fill="#00f800"/>
<rect x="503.96" y="26.20" width="4.12" height="83.85" fill="#00f800"/>
<rect x="508.04" y="26.20" width="4.12" height="79.66" fill="#00f800"/>
<rect x="508.04" y="105.81" width="4.12" height="4.24" fill="#ff0000"/>
<rect x="512.11" y="26.20" width="4.12" height="83.85" fill="#00f800"/>
<rect x="516.18" y="26.20" width="4.12" height="2.56" fill="#0000ff"/>
<rect x="516.18" y="28.71" width="4.12" height="81.34" fill="#00f800"/>
<rect x="520.25" y="26.20" width="4.12" height="80.50" fill="#00f800"/>
<rect x="520.25" y="106.65" width="4.12" height="3.40" fill="#ff0000"/>
<rect x="524.33" y="26.20" width="4.12" height="83.85" fill="#00f800"/>
<rect x="528.40" y="26.20" width="2.03" height="58.71" fill="#0000ff"/>
<rect x="528.40" y="84.86" width="2.03" height="12.62" fill="#7a0c98"/>
<rect x="528.40" y="97.43" width="2.03" height="12.62" fill="#ff0000"/>
<rect x="530.38" y="26.20" width="2.03" height="67.90" fill="#0000ff"/>
<rect x="530.38" y="94.05" width="2.03" height="8.02" fill="#7a0c98"/>
<rect x="530.38" y="102.03" width="2.03" height="8.02" fill="#ff0000"/>
<rect x="532.36" y="26.20" width="2.03" height="62.82" fill="#0000ff"/>
<rect x="532.36" y="88.97" width="2.03" height="1.81" fill="#00f800"/>
<rect x="532.36" y="90.73" width="2.03" height="19.32" fill="#ff0000"/>
<rect x="534.34" y="26.20" width="2.03" height="74.68" fill="#0000ff"/>
<rect x="534.34" y="100.83" width="2.03" height="1.81" fill="#00f800"/>
<rect x="534.34" y="102.59" width="2.03" height="7.46" fill="#ff0000"/>
<rect x="536.32" y="26.20" width="2.03" height="57.03" fill="#0000ff"/>
<rect x="536.32" y="83.18" width="2.03" height="16.81" fill="#7a0c98"/>
<rect x="536.32" y="99.94" width="2.03" height="10.11" fill="#ff0000"/>
<rect x="538.30" y="26.20" width="2.03" height="68.67" fill="#0000ff"/>
<rect x="538.30" y="94.82" width="2.03" height="9.54" fill="#7a0c98"/>
<rect x="538.30" y="104.31" width="2.03" height="5.74" fill="#ff0000"/>
<rect x="540.28" y="26.20" width="2.03" height="46.14" fill="#0000ff"/>
<rect x="540.28" y="72.29" width="2.03" height="37.76" fill="#ff0000"/>
<rect x="542.26" y="26.20" width="2.03" height="63.53" fill="#0000ff"/>
<rect x="542.26" y="89.68" width="2.03" height="20.37" fill="#ff0000"/>
<rect x="544.24" y="26.20" width="2.03" height="50.33" fill="#0000ff"/>
<rect x="544.24" y="76.48" width="2.03" height="21.00" fill="#7a0c98"/>
<rect x="544.24" y="97.43" width="2.03" height="12.62" fill="#ff0000"/>
<rect x="546.23" y="26.20" width="2.03" height="59.34" fill="#0000ff"/>
<rect x="546.23" y="85.49" width="2.03" height="15.37" fill="#7a0c98"/>
<rect x="546.23" y="100.81" width="2.03" height="9.24" fill="#ff0000"/>
<rect x="548.21" y="26.20" width="2.03" height="64.58" fill="#0000ff"/>
<rect x="548.21" y="90.73" width="2.03" height="19.32" fill="#ff0000"/>
<rect x="550.19" y="26.20" width="2.03" height="71.30" fill="#0000ff"/>
<rect x="550.19" y="97.45" width="2.03" height="12.60" fill="#ff0000"/>
<rect x="552.17" y="26.20" width="2.03" height="49.49" fill="#0000ff"/>
<rect x="552.17" y="75.64" width="2.03" height="34.41" fill="#ff0000"/>
<rect x="554.15" y="26.20" width="2.03" height="69.82" fill="#0000ff"/>
<rect x="554.15" y="95.97" width="2.03" height="14.08" fill="#ff0000"/>
<rect x="556.13" y="26.20" width="2.03" height="75.47" fill="#0000ff"/>
<rect x="556.13" y="101.62" width="2.03" height="8.43" fill="#7a0c98"/>
<rect x="558.11" y="26.20" width="2.03" height="77.24" fill="#0000ff"/>
<rect x="558.11" y="103.39" width="2.03" height="6.66" fill="#7a0c98"/>
<rect x="560.09" y="26.20" width="2.03" height="47.48" fill="#0000ff"/>
<rect x="560.09" y="73.63" width="2.03" height="1.22" fill="#00f800"/>
<rect x="560.09" y="74.80" width="2.03" height="35.25" fill="#ff0000"/>
<rect x="562.07" y="26.20" width="2.03" height="71.59" fill="#0000ff"/>
<rect x="562.07" y="97.74" width="2.03" height="1.22" fill="#00f800"/>
<rect x="562.07" y="98.92" width="2.03" height="11.13" fill="#ff0000"/>
<rect x="564.05" y="26.20" width="2.03" height="43.29" fill="#0000ff"/>
<rect x="564.05" y="69.44" width="2.03" height="1.22" fill="#00f800"/>
<rect x="564.05" y="70.61" width="2.03" height="39.44" fill="#ff0000"/>
<rect x="566.03" y="26.20" width="2.03" height="63.77" fill="#0000ff"/>
<rect x="566.03" y="89.92" width="2.03" height="1.22" fill="#00f800"/>
<rect x="566.03" y="91.10" width="2.03" height="18.95" fill="#ff0000"/>
<rect x="568.01" y="26.20" width="2.03" height="67.93" fill="#0000ff"/>
<rect x="568.01" y="94.08" width="2.03" height="15.97" fill="#ff0000"/>
<rect x="569.99" y="26.20" width="2.03" height="73.24" fill="#0000ff"/>
<rect x="569.99" y="99.39" width="2.03" height="10.66" fill="#ff0000"/>
<rect x="571.97" y="26.20" width="2.03" height="74.63" fill="#0000ff"/>
<rect x="571.97" y="100.78" width="2.03" height="9.27" fill="#ff0000"/>
<rect x="573.95" y="26.20" width="2.03" height="80.77" fill="#0000ff"/>
<rect x="573.95" y="106.92" width="2.03" height="3.13" fill="#ff0000"/>
<rect x="575.93" y="26.20" width="2.03" height="67.93" fill="#0000ff"/>
<rect x="575.93" y="94.08" width="2.03" height="15.97" fill="#ff0000"/>
<rect x="577.91" y="26.20" width="2.03" height="75.59" fill="#0000ff"/>
<rect x="577.91" y="101.74" width="2.03" height="8.31" fill="#ff0000"/>
<rect x="579.89" y="26.20" width="2.03" height="50.83" fill="#0000ff"/>
<rect x="579.89" y="76.98" width="2.03" height="1.22" fill="#00f800"/>
<rect x="579.89" y="78.16" width="2.03" height="31.89" fill="#ff0000"/>
<rect x="581.88" y="26.20" width="2.03" height="74.03" fill="#0000ff"/>
<rect x="581.88" y="100.18" width="2.03" height="1.22" fill="#00f800"/>
<rect x="581.88" y="101.35" width="2.03" height="8.70" fill="#ff0000"/>
<rect x="583.86" y="26.20" width="2.03" height="61.22" fill="#0000ff"/>
<rect x="583.86" y="87.37" width="2.03" height="22.68" fill="#7a0c98"/>
<rect x="585.84" y="26.20" width="2.03" height="69.88" fill="#0000ff"/>
<rect x="585.84" y="96.03" width="2.03" height="14.02" fill="#7a0c98"/>
<rect x="587.82" y="26.20" width="2.03" height="73.79" fill="#0000ff"/>
<rect x="587.82" y="99.94" width="2.03" height="10.11" fill="#7a0c98"/>
<rect x="589.80" y="26.20" width="2.03" height="77.11" fill="#0000ff"/>
<rect x="589.80" y="103.26" width="2.03" height="6.79" fill="#7a0c98"/>
<rect x="591.78" y="26.20" width="2.03" height="51.08" fill="#0000ff"/>
<rect x="591.78" y="77.23" width="2.03" height="1.81" fill="#00f800"/>
<rect x="591.78" y="78.99" width="2.03" height="31.06" fill="#ff0000"/>
<rect x="593.76" y="26.20" width="2.03" height="64.57" fill="#0000ff"/>
<rect x="593.76" y="90.72" width="2.03" height="1.81" fill="#00f800"/>
<rect x="593.76" y="92.48" width="2.03" height="17.57" fill="#ff0000"/>
<rect x="595.74" y="26.20" width="2.03" height="56.36" fill="#0000ff"/>
<rect x="595.74" y="82.51" width="2.03" height="2.40" fill="#00f800"/>
<rect x="595.74" y="84.86" width="2.03" height="25.19" fill="#ff0000"/>
<rect x="597.72" y="26.20" width="2.03" height="63.11" fill="#0000ff"/>
<rect x="597.72" y="89.26" width="2.03" height="2.40" fill="#00f800"/>
<rect x="597.72" y="91.61" width="2.03" height="18.44" fill="#ff0000"/>
<rect x="599.70" y="26.20" width="2.03" height="69.60" fill="#0000ff"/>
<rect x="599.70" y="95.75" width="2.03" height="14.30" fill="#7a0c98"/>
<rect x="601.68" y="26.20" width="2.03" height="77.83" fill="#0000ff"/>
<rect x="601.68" y="103.98" width="2.03" height="6.07" fill="#7a0c98"/>
<rect x="603.66" y="26.20" width="2.03" height="60.39" fill="#0000ff"/>
<rect x="603.66" y="86.54" width="2.03" height="23.51" fill="#7a0c98"/>
<rect x="605.64" y="26.20" width="2.03" height="69.01" fill="#0000ff"/>
<rect x="605.64" y="95.16" width="2.03" height="14.89" fill="#7a0c98"/>
<rect x="607.62" y="26.20" width="2.03" height="77.15" fill="#0000ff"/>
<rect x="607.62" y="103.30" width="2.03" height="6.75" fill="#7a0c98"/>
<rect x="609.60" y="26.20" width="2.03" height="79.98" fill="#0000ff"/>
<rect x="609.60" y="106.13" width="2.03" height="3.92" fill="#7a0c98"/>
<rect x="611.58" y="26.20" width="2.03" height="46.98" fill="#0000ff"/>
<rect x="611.58" y="73.13" width="2.03" height="36.92" fill="#ff0000"/>
<rect x="613.56" y="26.20" width="2.03" height="62.87" fill="#0000ff"/>
<rect x="613.56" y="89.02" width="2.03" height="21.03" fill="#ff0000"/>
<rect x="615.54" y="26.20" width="2.03" height="57.03" fill="#0000ff"/>
<rect x="615.54" y="83.18" width="2.03" height="26.87" fill="#ff0000"/>
<rect x="617.53" y="26.20" width="2.03" height="70.42" fill="#0000ff"/>
<rect x="617.53" y="96.57" width="2.03" height="13.48" fill="#ff0000"/>
<rect x="619.51" y="26.20" width="2.03" height="65.41" fill="#0000ff"/>
<rect x="619.51" y="91.56" width="2.03" height="18.49" fill="#7a0c98"/>
<rect x="621.49" y="26.20" width="2.03" height="70.72" fill="#0000ff"/>
<rect x="621.49" y="96.87" width="2.03" height="13.18" fill="#7a0c98"/>
<rect x="623.47" y="26.20" width="2.03" height="58.21" fill="#0000ff"/>
<rect x="623.47" y="84.36" width="2.03" height="4.74" fill="#00f800"/>
<rect x="623.47" y="89.05" width="2.03" height="21.00" fill="#7a0c98"/>
<rect x="625.45" y="26.20" width="2.03" height="63.03" fill="#0000ff"/>
<rect x="625.45" y="89.18" width="2.03" height="4.74" fill="#00f800"/>
<rect x="625.45" y="93.88" width="2.03" height="16.17" fill="#7a0c98"/>
<rect x="627.43" y="26.20" width="2.03" height="58.71" fill="#0000ff"/>
<rect x="627.43" y="84.86" width="2.03" height="25.19" fill="#ff0000"/>
<rect x="629.41" y="26.20" width="2.03" height="71.01" fill="#0000ff"/>
<rect x="629.41" y="97.16" width="2.03" height="12.89" fill="#ff0000"/>
<rect x="631.39" y="26.20" width="2.03" height="77.15" fill="#0000ff"/>
<rect x="631.39" y="103.30" width="2.03" height="6.75" fill="#ff0000"/>
<rect x="633.37" y="26.20" width="2.03" height="79.73" fill="#0000ff"/>
<rect x="633.37" y="105.88" width="2.03" height="4.17" fill="#ff0000"/>
<rect x="635.35" y="26.20" width="2.03" height="47.40" fill="#0000ff"/>
<rect x="635.35" y="73.55" width="2.03" height="2.98" fill="#00f800"/>
<rect x="635.35" y="76.48" width="2.03" height="33.57" fill="#7a0c98"/>
<rect x="637.33" y="26.20" width="2.03" height="71.42" fill="#0000ff"/>
<rect x="637.33" y="97.57" width="2.03" height="2.98" fill="#00f800"/>
<rect x="637.33" y="100.50" width="2.03" height="9.55" fill="#7a0c98"/>
<rect x="639.31" y="26.20" width="2.03" height="42.12" fill="#0000ff"/>
<rect x="639.31" y="68.27" width="2.03" height="2.40" fill="#00f800"/>
<rect x="639.31" y="70.61" width="2.03" height="39.44" fill="#ff0000"/>
<rect x="641.29" y="26.20" width="2.03" height="56.46" fill="#0000ff"/>
<rect x="641.29" y="82.61" width="2.03" height="2.40" fill="#00f800"/>
<rect x="641.29" y="84.96" width="2.03" height="25.09" fill="#ff0000"/>
<rect x="643.27" y="26.20" width="2.03" height="69.60" fill="#0000ff"/>
<rect x="643.27" y="95.75" width="2.03" height="14.30" fill="#ff0000"/>
<rect x="645.25" y="26.20" width="2.03" height="75.22" fill="#0000ff"/>
<rect x="645.25" y="101.37" width="2.03" height="8.68" fill="#ff0000"/>
<rect x="647.23" y="26.20" width="2.03" height="57.03" fill="#0000ff"/>
<rect x="647.23" y="83.18" width="2.03" height="26.87" fill="#ff0000"/>
<rect x="649.21" y="26.20" width="2.03" height="62.50" fill="#0000ff"/>
<rect x="649.21" y="88.65" width="2.03" height="21.40" fill="#ff0000"/>
<rect x="651.19" y="26.20" width="2.03" height="63.74" fill="#0000ff"/>
<rect x="651.19" y="89.89" width="2.03" height="20.16" fill="#7a0c98"/>
<rect x="653.18" y="26.20" width="2.03" height="69.73" fill="#0000ff"/>
<rect x="653.18" y="95.88" width="2.03" height="14.17" fill="#7a0c98"/>
<rect x="655.16" y="26.20" width="2.03" height="72.96" fill="#0000ff"/>
<rect x="655.16" y="99.11" width="2.03" height="10.94" fill="#ff0000"/>
<rect x="657.14" y="26.20" width="2.03" height="79.42" fill="#0000ff"/>
<rect x="657.14" y="105.57" width="2.03" height="4.48" fill="#ff0000"/>
<rect x="659.12" y="26.20" width="2.03" height="50.33" fill="#0000ff"/>
<rect x="659.12" y="76.48" width="2.03" height="33.57" fill="#7a0c98"/>
<rect x="661.10" y="26.20" width="2.03" height="68.36" fill="#0000ff"/>
<rect x="661.10" y="94.51" width="2.03" height="15.54" fill="#7a0c98"/>
<rect x="663.08" y="26.20" width="2.03" height="83.85" fill="#0000ff"/>
<rect x="665.06" y="26.20" width="2.03" height="83.85" fill="#0000ff"/>
<rect x="667.04" y="26.20" width="2.03" height="68.77" fill="#0000ff"/>
<rect x="667.04" y="94.92" width="2.03" height="15.13" fill="#ff0000"/>
<rect x="669.02" y="26.20" width="2.03" height="79.89" fill="#0000ff"/>
<rect x="669.02" y="106.04" width="2.03" height="4.01" fill="#ff0000"/>
<rect x="315.50" y="26.2" width="1.1" height="83.8" fill="#c4c4c4" opacity="0.8"/>
<rect x="319.44" y="26.2" width="1.1" height="83.8" fill="#c4c4c4" opacity="0.7"/>
<rect x="323.38" y="26.2" width="1.1" height="83.8" fill="#c4c4c4" opacity="0.6"/>
<rect x="327.32" y="26.2" width="1.1" height="83.8" fill="#c4c4c4" opacity="0.5"/>
<rect x="331.26" y="26.2" width="1.1" height="83.8" fill="#c4c4c4" opacity="0.8"/>
<rect x="335.20" y="26.2" width="1.1" height="83.8" fill="#c4c4c4" opacity="0.5"/>
<rect x="339.14" y="26.2" width="1.1" height="83.8" fill="#c4c4c4" opacity="0.6"/>
<rect x="343.08" y="26.2" width="1.1" height="83.8" fill="#c4c4c4" opacity="0.7"/>
<rect x="347.02" y="26.2" width="1.1" height="83.8" fill="#c4c4c4" opacity="0.6"/>
<rect x="350.96" y="26.2" width="1.1" height="83.8" fill="#c4c4c4" opacity="0.6"/>
<rect x="354.90" y="26.2" width="1.1" height="83.8" fill="#c4c4c4" opacity="0.8"/>
<rect x="358.84" y="26.2" width="1.1" height="83.8" fill="#c4c4c4" opacity="0.8"/>
<rect x="362.78" y="26.2" width="1.1" height="83.8" fill="#c4c4c4" opacity="0.8"/>
<rect x="366.72" y="26.2" width="1.1" height="83.8" fill="#c4c4c4" opacity="0.5"/>
<rect x="370.66" y="26.2" width="1.1" height="83.8" fill="#c4c4c4" opacity="0.6"/>
<rect x="374.60" y="26.2" width="1.1" height="83.8" fill="#c4c4c4" opacity="0.8"/>
<rect x="378.54" y="26.2" width="1.1" height="83.8" fill="#c4c4c4" opacity="0.8"/>
<rect x="382.48" y="26.2" width="1.1" height="83.8" fill="#c4c4c4" opacity="0.7"/>
<rect x="386.42" y="26.2" width="1.1" height="83.8" fill="#c4c4c4" opacity="0.6"/>
<rect x="390.36" y="26.2" width="1.1" height="83.8" fill="#c4c4c4" opacity="0.8"/>
<rect x="394.30" y="26.2" width="1.1" height="83.8" fill="#c4c4c4" opacity="0.7"/>
<rect x="398.24" y="26.2" width="1.1" height="83.8" fill="#c4c4c4" opacity="0.8"/>
<rect x="402.18" y="26.2" width="1.1" height="83.8" fill="#c4c4c4" opacity="0.7"/>
<rect x="406.12" y="26.2" width="1.1" height="83.8" fill="#c4c4c4" opacity="0.8"/>
<rect x="410.06" y="26.2" width="1.1" height="83.8" fill="#c4c4c4" opacity="0.6"/>
<rect x="414.00" y="26.2" width="1.1" height="83.8" fill="#c4c4c4" opacity="0.6"/>
<rect x="417.94" y="26.2" width="1.1" height="83.8" fill="#c4c4c4" opacity="0.5"/>
<rect x="421.88" y="26.2" width="1.1" height="83.8" fill="#c4c4c4" opacity="0.6"/>
<rect x="425.82" y="26.2" width="1.1" height="83.8" fill="#c4c4c4" opacity="0.6"/>
<rect x="429.76" y="26.2" width="1.1" height="83.8" fill="#c4c4c4" opacity="0.6"/>
<rect x="433.70" y="26.2" width="1.1" height="83.8" fill="#c4c4c4" opacity="0.6"/>
<rect x="437.64" y="26.2" width="1.1" height="83.8" fill="#c4c4c4" opacity="0.5"/>
<rect x="441.58" y="26.2" width="1.1" height="83.8" fill="#c4c4c4" opacity="0.8"/>
<rect x="445.52" y="26.2" width="1.1" height="83.8" fill="#c4c4c4" opacity="0.6"/>
<rect x="449.46" y="26.2" width="1.1" height="83.8" fill="#c4c4c4" opacity="0.7"/>
<rect x="453.40" y="26.2" width="1.1" height="83.8" fill="#c4c4c4" opacity="0.7"/>
<rect x="457.34" y="26.2" width="1.1" height="83.8" fill="#c4c4c4" opacity="0.5"/>
<rect x="461.28" y="26.2" width="1.1" height="83.8" fill="#c4c4c4" opacity="0.6"/>
<rect x="465.22" y="26.2" width="1.1" height="83.8" fill="#c4c4c4" opacity="0.8"/>
<rect x="469.16" y="26.2" width="1.1" height="83.8" fill="#c4c4c4" opacity="0.7"/>
<rect x="473.10" y="26.2" width="1.1" height="83.8" fill="#c4c4c4" opacity="0.7"/>
<rect x="477.04" y="26.2" width="1.1" height="83.8" fill="#c4c4c4" opacity="0.6"/>
<rect x="480.98" y="26.2" width="1.1" height="83.8" fill="#c4c4c4" opacity="0.5"/>
<rect x="484.92" y="26.2" width="1.1" height="83.8" fill="#c4c4c4" opacity="0.8"/>
<rect x="488.86" y="26.2" width="1.1" height="83.8" fill="#c4c4c4" opacity="0.8"/>
<rect x="492.80" y="26.2" width="1.1" height="83.8" fill="#c4c4c4" opacity="0.8"/>
<rect x="496.74" y="26.2" width="1.1" height="83.8" fill="#c4c4c4" opacity="0.8"/>
<rect x="500.68" y="26.2" width="1.1" height="83.8" fill="#c4c4c4" opacity="0.8"/>
<rect x="504.62" y="26.2" width="1.1" height="83.8" fill="#c4c4c4" opacity="0.5"/>
<rect x="508.56" y="26.2" width="1.1" height="83.8" fill="#c4c4c4" opacity="0.8"/>
<rect x="512.50" y="26.2" width="1.1" height="83.8" fill="#c4c4c4" opacity="0.8"/>
<rect x="516.44" y="26.2" width="1.1" height="83.8" fill="#c4c4c4" opacity="0.5"/>
<rect x="520.38" y="26.2" width="1.1" height="83.8" fill="#c4c4c4" opacity="0.6"/>
<rect x="524.32" y="26.2" width="1.1" height="83.8" fill="#c4c4c4" opacity="0.5"/>
<rect x="528.26" y="26.2" width="1.1" height="83.8" fill="#c4c4c4" opacity="0.6"/>
<rect x="532.20" y="26.2" width="1.1" height="83.8" fill="#c4c4c4" opacity="0.8"/>
<rect x="536.14" y="26.2" width="1.1" height="83.8" fill="#c4c4c4" opacity="0.6"/>
<rect x="540.08" y="26.2" width="1.1" height="83.8" fill="#c4c4c4" opacity="0.5"/>
<rect x="544.02" y="26.2" width="1.1" height="83.8" fill="#c4c4c4" opacity="0.7"/>
<rect x="547.96" y="26.2" width="1.1" height="83.8" fill="#c4c4c4" opacity="0.5"/>
<rect x="551.90" y="26.2" width="1.1" height="83.8" fill="#c4c4c4" opacity="0.5"/>
<rect x="555.84" y="26.2" width="1.1" height="83.8" fill="#c4c4c4" opacity="0.5"/>
<rect x="559.78" y="26.2" width="1.1" height="83.8" fill="#c4c4c4" opacity="0.6"/>
<rect x="563.72" y="26.2" width="1.1" height="83.8" fill="#c4c4c4" opacity="0.5"/>
<rect x="567.66" y="26.2" width="1.1" height="83.8" fill="#c4c4c4" opacity="0.7"/>
<rect x="571.60" y="26.2" width="1.1" height="83.8" fill="#c4c4c4" opacity="0.5"/>
<rect x="575.54" y="26.2" width="1.1" height="83.8" fill="#c4c4c4" opacity="0.5"/>
<rect x="579.48" y="26.2" width="1.1" height="83.8" fill="#c4c4c4" opacity="0.6"/>
<rect x="583.42" y="26.2" width="1.1" height="83.8" fill="#c4c4c4" opacity="0.8"/>
<rect x="587.36" y="26.2" width="1.1" height="83.8" fill="#c4c4c4" opacity="0.6"/>
<rect x="591.30" y="26.2" width="1.1" height="83.8" fill="#c4c4c4" opacity="0.7"/>
<rect x="595.24" y="26.2" width="1.1" height="83.8" fill="#c4c4c4" opacity="0.7"/>
<rect x="599.18" y="26.2" width="1.1" height="83.8" fill="#c4c4c4" opacity="0.7"/>
<rect x="603.12" y="26.2" width="1.1" height="83.8" fill="#c4c4c4" opacity="0.8"/>
<rect x="607.06" y="26.2" width="1.1" height="83.8" fill="#c4c4c4" opacity="0.5"/>
<rect x="611.00" y="26.2" width="1.1" height="83.8" fill="#c4c4c4" opacity="0.5"/>
<rect x="614.94" y="26.2" width="1.1" height="83.8" fill="#c4c4c4" opacity="0.8"/>
<rect x="618.88" y="26.2" width="1.1" height="83.8" fill="#c4c4c4" opacity="0.8"/>
<rect x="622.82" y="26.2" width="1.1" height="83.8" fill="#c4c4c4" opacity="0.8"/>
<rect x="626.76" y="26.2" width="1.1" height="83.8" fill="#c4c4c4" opacity="0.8"/>
<rect x="630.70" y="26.2" width="1.1" height="83.8" fill="#c4c4c4" opacity="0.7"/>
<rect x="634.64" y="26.2" width="1.1" height="83.8" fill="#c4c4c4" opacity="0.5"/>
<rect x="638.58" y="26.2" width="1.1" height="83.8" fill="#c4c4c4" opacity="0.6"/>
<rect x="642.52" y="26.2" width="1.1" height="83.8" fill="#c4c4c4" opacity="0.5"/>
<rect x="646.46" y="26.2" width="1.1" height="83.8" fill="#c4c4c4" opacity="0.7"/>
<rect x="650.40" y="26.2" width="1.1" height="83.8" fill="#c4c4c4" opacity="0.7"/>
<rect x="654.34" y="26.2" width="1.1" height="83.8" fill="#c4c4c4" opacity="0.8"/>
<rect x="658.28" y="26.2" width="1.1" height="83.8" fill="#c4c4c4" opacity="0.6"/>
<rect x="662.22" y="26.2" width="1.1" height="83.8" fill="#c4c4c4" opacity="0.5"/>
<rect x="666.16" y="26.2" width="1.1" height="83.8" fill="#c4c4c4" opacity="0.6"/>
<rect x="670.10" y="26.2" width="1.1" height="83.8" fill="#c4c4c4" opacity="0.7"/>
<path d="M294.6 26.6H300V110.1H294.6 M294.6 43.3H300 M294.6 60H300 M294.6 76.7H300 M294.6 93.4H300" fill="none" stroke="#555" stroke-width="0.8"/>
<text transform="translate(287.9 110.30) scale(1.75 1) rotate(-90)" text-anchor="middle" font-size="6.2" fill="#444">0.0</text>
<text transform="translate(287.9 93.56) scale(1.75 1) rotate(-90)" text-anchor="middle" font-size="6.2" fill="#444">0.2</text>
<text transform="translate(287.9 76.82) scale(1.75 1) rotate(-90)" text-anchor="middle" font-size="6.2" fill="#444">0.4</text>
<text transform="translate(287.9 60.08) scale(1.75 1) rotate(-90)" text-anchor="middle" font-size="6.2" fill="#444">0.6</text>
<text transform="translate(287.9 43.34) scale(1.75 1) rotate(-90)" text-anchor="middle" font-size="6.2" fill="#444">0.8</text>
<text transform="translate(287.9 26.60) scale(1.75 1) rotate(-90)" text-anchor="middle" font-size="6.2" fill="#444">1.0</text>
<text transform="translate(273.9 107.7) rotate(-90)" font-size="7.3" font-weight="bold" fill="#222" textLength="73.1" lengthAdjust="spacingAndGlyphs">Ancestry proportion</text>
<text transform="translate(314.1 124.2) scale(1.45 1)" text-anchor="middle" font-size="6.1" fill="#333">1</text>
<text transform="translate(330 124.2) scale(1.45 1)" text-anchor="middle" font-size="6.1" fill="#333">17</text>
<text transform="translate(347.9 124.2) scale(1.45 1)" text-anchor="middle" font-size="6.1" fill="#333">50</text>
<text transform="translate(365 124.2) scale(1.45 1)" text-anchor="middle" font-size="6.1" fill="#333">81</text>
<text transform="translate(386.2 124.2) scale(1.45 1)" text-anchor="middle" font-size="6.1" fill="#333">120</text>
<text transform="translate(408.8 124.2) scale(1.45 1)" text-anchor="middle" font-size="6.1" fill="#333">166</text>
<text transform="translate(431.3 124.2) scale(1.45 1)" text-anchor="middle" font-size="6.1" fill="#333">200</text>
<text transform="translate(454.4 124.2) scale(1.45 1)" text-anchor="middle" font-size="6.1" fill="#333">228</text>
<text transform="translate(477.3 124.2) scale(1.45 1)" text-anchor="middle" font-size="6.1" fill="#333">269</text>
<text transform="translate(498 124.2) scale(1.45 1)" text-anchor="middle" font-size="6.1" fill="#333">48</text>
<text transform="translate(518.2 124.2) scale(1.45 1)" text-anchor="middle" font-size="6.1" fill="#333">183</text>
<text transform="translate(538.8 124.2) scale(1.45 1)" text-anchor="middle" font-size="6.1" fill="#333">43</text>
<text transform="translate(556.8 124.2) scale(1.45 1)" text-anchor="middle" font-size="6.1" fill="#333">77</text>
<text transform="translate(577.1 124.2) scale(1.45 1)" text-anchor="middle" font-size="6.1" fill="#333">106</text>
<text transform="translate(600.3 124.2) scale(1.45 1)" text-anchor="middle" font-size="6.1" fill="#333">136</text>
<text transform="translate(623.2 124.2) scale(1.45 1)" text-anchor="middle" font-size="6.1" fill="#333">194</text>
<text transform="translate(645.8 124.2) scale(1.45 1)" text-anchor="middle" font-size="6.1" fill="#333">242</text>
<text transform="translate(668 124.2) scale(1.45 1)" text-anchor="middle" font-size="6.1" fill="#333">277</text>
<text x="478.6" y="136.8" font-size="8.3" font-weight="bold" fill="#333" textLength="38.4" lengthAdjust="spacingAndGlyphs">Individuals</text>
<text x="269.3" y="24.6" font-size="12.8" font-weight="bold" fill="#111" font-family='"Liberation Sans", sans-serif'>b</text>
<text x="332.3" y="17.4" font-size="12" fill="#ee1c25" font-family='"Liberation Sans", sans-serif'><tspan font-style="italic">indica</tspan> _cluster 1</text>
<text x="468.8" y="17.4" font-size="12" fill="#22b04b" font-family='"Liberation Sans", sans-serif'><tspan font-style="italic">aus</tspan>-cluster 2</text>
<text x="551.9" y="17.4" font-size="12" fill="#4472c4" font-family='"Liberation Sans", sans-serif'><tspan font-style="italic">indica</tspan> _cluster 3</text>
<rect x="277.0" y="147.4" width="225.39999999999998" height="138.20000000000002" fill="#e4e4e4"/>
<line x1="277.0" x2="502.4" y1="160.66" y2="160.66" stroke="#ececec" stroke-width="0.8"/>
<line x1="277.0" x2="502.4" y1="183.98" y2="183.98" stroke="#ececec" stroke-width="0.8"/>
<line x1="277.0" x2="502.4" y1="207.30" y2="207.30" stroke="#ececec" stroke-width="0.8"/>
<line x1="277.0" x2="502.4" y1="230.62" y2="230.62" stroke="#ececec" stroke-width="0.8"/>
<line x1="277.0" x2="502.4" y1="253.94" y2="253.94" stroke="#ececec" stroke-width="0.8"/>
<line x1="277.0" x2="502.4" y1="277.26" y2="277.26" stroke="#ececec" stroke-width="0.8"/>
<line x1="305.05" x2="305.05" y1="147.4" y2="285.6" stroke="#ececec" stroke-width="0.8"/>
<line x1="339.15" x2="339.15" y1="147.4" y2="285.6" stroke="#ececec" stroke-width="0.8"/>
<line x1="373.25" x2="373.25" y1="147.4" y2="285.6" stroke="#ececec" stroke-width="0.8"/>
<line x1="407.35" x2="407.35" y1="147.4" y2="285.6" stroke="#ececec" stroke-width="0.8"/>
<line x1="441.45" x2="441.45" y1="147.4" y2="285.6" stroke="#ececec" stroke-width="0.8"/>
<line x1="475.55" x2="475.55" y1="147.4" y2="285.6" stroke="#ececec" stroke-width="0.8"/>
<line x1="277.0" x2="502.4" y1="149.00" y2="149.00" stroke="#f1f1f1" stroke-width="0.9"/>
<line x1="275.5" x2="277.0" y1="149.00" y2="149.00" stroke="#555" stroke-width="0.5"/>
<text x="265.9" y="151.10" font-size="5.9" fill="#8a8a8a" textLength="9.4" lengthAdjust="spacingAndGlyphs">0.63</text>
<line x1="277.0" x2="502.4" y1="172.32" y2="172.32" stroke="#f1f1f1" stroke-width="0.9"/>
<line x1="275.5" x2="277.0" y1="172.32" y2="172.32" stroke="#555" stroke-width="0.5"/>
<text x="265.9" y="174.42" font-size="5.9" fill="#8a8a8a" textLength="9.4" lengthAdjust="spacingAndGlyphs">0.62</text>
<line x1="277.0" x2="502.4" y1="195.64" y2="195.64" stroke="#f1f1f1" stroke-width="0.9"/>
<line x1="275.5" x2="277.0" y1="195.64" y2="195.64" stroke="#555" stroke-width="0.5"/>
<text x="265.9" y="197.74" font-size="5.9" fill="#8a8a8a" textLength="9.4" lengthAdjust="spacingAndGlyphs">0.61</text>
<line x1="277.0" x2="502.4" y1="218.96" y2="218.96" stroke="#f1f1f1" stroke-width="0.9"/>
<line x1="275.5" x2="277.0" y1="218.96" y2="218.96" stroke="#555" stroke-width="0.5"/>
<text x="265.9" y="221.06" font-size="5.9" fill="#8a8a8a" textLength="9.4" lengthAdjust="spacingAndGlyphs">0.60</text>
<line x1="277.0" x2="502.4" y1="242.28" y2="242.28" stroke="#f1f1f1" stroke-width="0.9"/>
<line x1="275.5" x2="277.0" y1="242.28" y2="242.28" stroke="#555" stroke-width="0.5"/>
<text x="265.9" y="244.38" font-size="5.9" fill="#8a8a8a" textLength="9.4" lengthAdjust="spacingAndGlyphs">0.59</text>
<line x1="277.0" x2="502.4" y1="265.60" y2="265.60" stroke="#f1f1f1" stroke-width="0.9"/>
<line x1="275.5" x2="277.0" y1="265.60" y2="265.60" stroke="#555" stroke-width="0.5"/>
<text x="265.9" y="267.70" font-size="5.9" fill="#8a8a8a" textLength="9.4" lengthAdjust="spacingAndGlyphs">0.58</text>
<line x1="288.00" x2="288.00" y1="147.4" y2="285.6" stroke="#f1f1f1" stroke-width="0.9"/>
<line x1="288.00" x2="288.00" y1="285.6" y2="287.0" stroke="#555" stroke-width="0.5"/>
<text transform="translate(288.00 292.4) scale(0.85 1)" text-anchor="middle" font-size="5.8" fill="#8a8a8a">2</text>
<line x1="322.10" x2="322.10" y1="147.4" y2="285.6" stroke="#f1f1f1" stroke-width="0.9"/>
<line x1="322.10" x2="322.10" y1="285.6" y2="287.0" stroke="#555" stroke-width="0.5"/>
<text transform="translate(322.10 292.4) scale(0.85 1)" text-anchor="middle" font-size="5.8" fill="#8a8a8a">3</text>
<line x1="356.20" x2="356.20" y1="147.4" y2="285.6" stroke="#f1f1f1" stroke-width="0.9"/>
<line x1="356.20" x2="356.20" y1="285.6" y2="287.0" stroke="#555" stroke-width="0.5"/>
<text transform="translate(356.20 292.4) scale(0.85 1)" text-anchor="middle" font-size="5.8" fill="#8a8a8a">4</text>
<line x1="390.30" x2="390.30" y1="147.4" y2="285.6" stroke="#f1f1f1" stroke-width="0.9"/>
<line x1="390.30" x2="390.30" y1="285.6" y2="287.0" stroke="#555" stroke-width="0.5"/>
<text transform="translate(390.30 292.4) scale(0.85 1)" text-anchor="middle" font-size="5.8" fill="#8a8a8a">5</text>
<line x1="424.40" x2="424.40" y1="147.4" y2="285.6" stroke="#f1f1f1" stroke-width="0.9"/>
<line x1="424.40" x2="424.40" y1="285.6" y2="287.0" stroke="#555" stroke-width="0.5"/>
<text transform="translate(424.40 292.4) scale(0.85 1)" text-anchor="middle" font-size="5.8" fill="#8a8a8a">6</text>
<line x1="458.50" x2="458.50" y1="147.4" y2="285.6" stroke="#f1f1f1" stroke-width="0.9"/>
<line x1="458.50" x2="458.50" y1="285.6" y2="287.0" stroke="#555" stroke-width="0.5"/>
<text transform="translate(458.50 292.4) scale(0.85 1)" text-anchor="middle" font-size="5.8" fill="#8a8a8a">7</text>
<line x1="492.60" x2="492.60" y1="147.4" y2="285.6" stroke="#f1f1f1" stroke-width="0.9"/>
<line x1="492.60" x2="492.60" y1="285.6" y2="287.0" stroke="#555" stroke-width="0.5"/>
<text transform="translate(492.60 292.4) scale(0.85 1)" text-anchor="middle" font-size="5.8" fill="#8a8a8a">8</text>
<path d="M288.00 153.9 L322.10 271.4 L356.20 272.5 L390.30 268.2 L424.40 272.2 L458.50 278.7 L492.60 279.6" fill="none" stroke="#222" stroke-width="0.6"/>
<circle cx="288.00" cy="153.9" r="1.5" fill="#000"/>
<circle cx="322.10" cy="271.4" r="1.5" fill="#000"/>
<circle cx="356.20" cy="272.5" r="1.5" fill="#000"/>
<circle cx="390.30" cy="268.2" r="1.5" fill="#000"/>
<circle cx="424.40" cy="272.2" r="1.5" fill="#000"/>
<circle cx="458.50" cy="278.7" r="1.5" fill="#000"/>
<circle cx="492.60" cy="279.6" r="1.5" fill="#000"/>
<ellipse cx="322.2" cy="273.3" rx="6" ry="29" fill="none" stroke="#111" stroke-width="1"/>
<text transform="translate(264.9 247.8) rotate(-90)" font-size="5.6" font-weight="bold" fill="#222" textLength="62.9" lengthAdjust="spacingAndGlyphs">Cross-validation error</text>
<text x="390.2" y="298.5" text-anchor="middle" font-size="6" font-weight="bold" fill="#222">K</text>
<text x="261.4" y="162.3" font-size="12.3" font-weight="bold" fill="#111" font-family='"Liberation Sans", sans-serif'>c</text>
<path d="M539.0 189.5L585.1 163.4 M585.1 163.4L658.4 169.6 M658.4 169.6L622.4 200.3 M622.4 200.3L539.0 189.5 M539.0 189.5L551.4 267.4 M551.4 267.4L627.1 286.8 M627.1 286.8L658.4 244.2 M658.4 244.2L658.4 169.6 M622.4 200.3L627.1 286.8 M585.1 163.4L592.6 232.0 M592.6 232.0L551.4 267.4 M592.6 232.0L658.4 244.2" stroke="#4a4a4a" stroke-width="0.6" fill="none"/>
<text x="585.4" y="156.3" font-size="5.2" font-style="italic" font-weight="bold" fill="#222" text-anchor="middle">-100</text>
<text x="601.5" y="157.20000000000002" font-size="5.2" font-style="italic" font-weight="bold" fill="#222" text-anchor="middle">0</text>
<text x="619.1" y="158.5" font-size="5.2" font-style="italic" font-weight="bold" fill="#222" text-anchor="middle">100</text>
<text x="637.1" y="159.9" font-size="5.2" font-style="italic" font-weight="bold" fill="#222" text-anchor="middle">200</text>
<text x="656.2" y="161.1" font-size="5.2" font-style="italic" font-weight="bold" fill="#222" text-anchor="middle">300</text>
<line x1="586.4" y1="158.9" x2="586.4" y2="163.4" stroke="#4a4a4a" stroke-width="0.5"/>
<line x1="602.4" y1="160.2" x2="602.4" y2="164.8" stroke="#4a4a4a" stroke-width="0.5"/>
<line x1="619.4" y1="161.5" x2="619.4" y2="166.3" stroke="#4a4a4a" stroke-width="0.5"/>
<line x1="637.4" y1="162.8" x2="637.4" y2="167.8" stroke="#4a4a4a" stroke-width="0.5"/>
<line x1="656.4" y1="164" x2="656.4" y2="169.4" stroke="#4a4a4a" stroke-width="0.5"/>
<text x="671.3" y="183.5" font-size="5.2" font-style="italic" font-weight="bold" fill="#222" text-anchor="middle">100</text>
<text x="670.5" y="197.3" font-size="5.2" font-style="italic" font-weight="bold" fill="#222" text-anchor="middle">50</text>
<text x="670.3" y="211.3" font-size="5.2" font-style="italic" font-weight="bold" fill="#222" text-anchor="middle">0</text>
<text x="671" y="224.4" font-size="5.2" font-style="italic" font-weight="bold" fill="#222" text-anchor="middle">-50</text>
<text x="671.2" y="237.9" font-size="5.2" font-style="italic" font-weight="bold" fill="#222" text-anchor="middle">-100</text>
<line x1="659.4" y1="180.4" x2="663.6" y2="180.4" stroke="#4a4a4a" stroke-width="0.5"/>
<line x1="659.4" y1="194.2" x2="663.6" y2="194.2" stroke="#4a4a4a" stroke-width="0.5"/>
<line x1="659.4" y1="208.2" x2="663.6" y2="208.2" stroke="#4a4a4a" stroke-width="0.5"/>
<line x1="659.4" y1="221.3" x2="663.6" y2="221.3" stroke="#4a4a4a" stroke-width="0.5"/>
<line x1="659.4" y1="234.6" x2="663.6" y2="234.6" stroke="#4a4a4a" stroke-width="0.5"/>
<text x="672" y="248.8" font-size="5.2" font-style="italic" font-weight="bold" fill="#222" text-anchor="middle">150</text>
<text x="667.4" y="255.9" font-size="5.2" font-style="italic" font-weight="bold" fill="#222" text-anchor="middle">100</text>
<text x="661.7" y="262.09999999999997" font-size="5.2" font-style="italic" font-weight="bold" fill="#222" text-anchor="middle">50</text>
<text x="655.8" y="269.2" font-size="5.2" font-style="italic" font-weight="bold" fill="#222" text-anchor="middle">0</text>
<text x="652.4" y="276.79999999999995" font-size="5.2" font-style="italic" font-weight="bold" fill="#222" text-anchor="middle">-50</text>
<text x="647.6" y="285.2" font-size="5.2" font-style="italic" font-weight="bold" fill="#222" text-anchor="middle">-100</text>
<line x1="658.4" y1="244.2" x2="662.7" y2="245.2" stroke="#4a4a4a" stroke-width="0.5"/>
<line x1="652.1" y1="252.7" x2="656.4" y2="253.7" stroke="#4a4a4a" stroke-width="0.5"/>
<line x1="645.9" y1="261.2" x2="650.2" y2="262.2" stroke="#4a4a4a" stroke-width="0.5"/>
<line x1="639.6" y1="269.8" x2="643.9" y2="270.8" stroke="#4a4a4a" stroke-width="0.5"/>
<line x1="633.4" y1="278.3" x2="637.7" y2="279.3" stroke="#4a4a4a" stroke-width="0.5"/>
<line x1="627.1" y1="286.8" x2="631.4" y2="287.8" stroke="#4a4a4a" stroke-width="0.5"/>
<text x="526.8" y="237.7" font-size="5.2" font-style="italic" fill="#222" text-anchor="middle">PCA[,3]</text>
<text x="565.8" y="258.5" font-size="5.2" font-style="italic" fill="#222" text-anchor="middle">PCA[,2]</text>
<text x="581" y="297.7" font-size="5.2" font-style="italic" fill="#222" text-anchor="middle">PCA[,1]</text>
<text x="517.5" y="161.9" font-size="12.6" font-weight="bold" fill="#111">d</text>
<defs><radialGradient id="gr" cx="0.38" cy="0.35" r="0.65"><stop offset="0" stop-color="#ff9a9a"/><stop offset="0.35" stop-color="#e40000"/><stop offset="0.8" stop-color="#a80000"/><stop offset="1" stop-color="#500000"/></radialGradient><radialGradient id="gy" cx="0.38" cy="0.35" r="0.65"><stop offset="0" stop-color="#ffffc0"/><stop offset="0.35" stop-color="#f4e800"/><stop offset="0.85" stop-color="#b0a000"/><stop offset="1" stop-color="#707000"/></radialGradient><radialGradient id="gg" cx="0.38" cy="0.35" r="0.65"><stop offset="0" stop-color="#b0ffb0"/><stop offset="0.35" stop-color="#10e010"/><stop offset="0.85" stop-color="#00a000"/><stop offset="1" stop-color="#005000"/></radialGradient></defs>
<circle cx="586.3" cy="167.0" r="1.6" fill="url(#gy)"/>
<circle cx="587.4" cy="171.2" r="1.6" fill="url(#gy)"/>
<circle cx="589.2" cy="171.5" r="1.6" fill="url(#gy)"/>
<circle cx="586.6" cy="172.3" r="1.6" fill="url(#gy)"/>
<circle cx="588.1" cy="172.3" r="1.6" fill="url(#gy)"/>
<circle cx="587.5" cy="172.5" r="1.6" fill="url(#gy)"/>
<circle cx="589.6" cy="173.6" r="1.6" fill="url(#gy)"/>
<circle cx="584.4" cy="178.4" r="1.6" fill="url(#gy)"/>
<circle cx="580.9" cy="178.6" r="1.6" fill="url(#gy)"/>
<circle cx="585.7" cy="178.6" r="1.6" fill="url(#gy)"/>
<circle cx="582.0" cy="178.7" r="1.6" fill="url(#gy)"/>
<circle cx="585.5" cy="179.0" r="1.6" fill="url(#gy)"/>
<circle cx="583.0" cy="179.8" r="1.6" fill="url(#gy)"/>
<circle cx="587.4" cy="180.4" r="1.6" fill="url(#gy)"/>
<circle cx="585.4" cy="180.6" r="1.6" fill="url(#gy)"/>
<circle cx="584.9" cy="180.6" r="1.6" fill="url(#gy)"/>
<circle cx="587.4" cy="182.1" r="1.6" fill="url(#gy)"/>
<circle cx="590.5" cy="183.3" r="1.6" fill="url(#gy)"/>
<circle cx="583.5" cy="183.4" r="1.6" fill="url(#gy)"/>
<circle cx="586.8" cy="184.0" r="1.6" fill="url(#gy)"/>
<circle cx="585.5" cy="186.6" r="1.6" fill="url(#gy)"/>
<circle cx="580.4" cy="187.4" r="1.6" fill="url(#gy)"/>
<circle cx="573.4" cy="191.0" r="1.6" fill="url(#gy)"/>
<circle cx="577.4" cy="192.5" r="1.6" fill="url(#gy)"/>
<circle cx="585.5" cy="197.0" r="1.6" fill="url(#gy)"/>
<circle cx="565.2" cy="197.1" r="1.85" fill="url(#gr)"/>
<circle cx="554.9" cy="197.2" r="1.85" fill="url(#gr)"/>
<circle cx="557.1" cy="198.2" r="1.85" fill="url(#gr)"/>
<circle cx="561.5" cy="199.0" r="1.85" fill="url(#gr)"/>
<circle cx="590.0" cy="200.0" r="1.6" fill="url(#gy)"/>
<circle cx="563.8" cy="200.1" r="1.85" fill="url(#gr)"/>
<circle cx="587.0" cy="201.0" r="1.6" fill="url(#gy)"/>
<circle cx="565.8" cy="201.4" r="1.85" fill="url(#gr)"/>
<circle cx="566.0" cy="201.9" r="1.85" fill="url(#gr)"/>
<circle cx="570.4" cy="202.0" r="1.85" fill="url(#gr)"/>
<circle cx="573.9" cy="203.3" r="1.85" fill="url(#gr)"/>
<circle cx="560.5" cy="203.4" r="1.85" fill="url(#gr)"/>
<circle cx="553.9" cy="204.0" r="1.85" fill="url(#gr)"/>
<circle cx="566.0" cy="204.3" r="1.85" fill="url(#gr)"/>
<circle cx="554.4" cy="204.6" r="1.85" fill="url(#gr)"/>
<circle cx="559.3" cy="204.6" r="1.85" fill="url(#gr)"/>
<circle cx="577.5" cy="204.7" r="1.85" fill="url(#gr)"/>
<circle cx="553.6" cy="205.0" r="1.85" fill="url(#gr)"/>
<circle cx="564.4" cy="205.0" r="1.85" fill="url(#gr)"/>
<circle cx="569.6" cy="205.0" r="1.85" fill="url(#gr)"/>
<circle cx="561.5" cy="205.9" r="1.85" fill="url(#gr)"/>
<circle cx="566.5" cy="206.3" r="1.85" fill="url(#gr)"/>
<circle cx="557.1" cy="206.3" r="1.85" fill="url(#gr)"/>
<circle cx="560.5" cy="207.2" r="1.85" fill="url(#gr)"/>
<circle cx="554.9" cy="207.3" r="1.85" fill="url(#gr)"/>
<circle cx="564.5" cy="207.8" r="1.85" fill="url(#gr)"/>
<circle cx="559.6" cy="209.0" r="1.85" fill="url(#gr)"/>
<circle cx="562.4" cy="209.2" r="1.85" fill="url(#gr)"/>
<circle cx="552.1" cy="209.2" r="1.85" fill="url(#gr)"/>
<circle cx="568.7" cy="210.9" r="1.85" fill="url(#gr)"/>
<circle cx="563.4" cy="211.6" r="1.85" fill="url(#gr)"/>
<circle cx="615.6" cy="212.1" r="1.75" fill="url(#gg)"/>
<circle cx="628.8" cy="213.8" r="1.75" fill="url(#gg)"/>
<circle cx="566.7" cy="214.1" r="1.85" fill="url(#gr)"/>
<circle cx="578.9" cy="214.9" r="1.85" fill="url(#gr)"/>
<circle cx="635.7" cy="215.0" r="1.75" fill="url(#gg)"/>
<circle cx="632.3" cy="215.6" r="1.75" fill="url(#gg)"/>
<circle cx="584.9" cy="216.0" r="1.85" fill="url(#gr)"/>
<circle cx="629.0" cy="216.0" r="1.75" fill="url(#gg)"/>
<circle cx="580.0" cy="216.7" r="1.85" fill="url(#gr)"/>
<circle cx="623.6" cy="216.7" r="1.75" fill="url(#gg)"/>
<circle cx="638.6" cy="216.7" r="1.75" fill="url(#gg)"/>
<circle cx="554.9" cy="216.7" r="1.85" fill="url(#gr)"/>
<circle cx="572.1" cy="216.9" r="1.85" fill="url(#gr)"/>
<circle cx="634.0" cy="217.0" r="1.75" fill="url(#gg)"/>
<circle cx="572.3" cy="217.8" r="1.85" fill="url(#gr)"/>
<circle cx="598.0" cy="218.0" r="1.75" fill="url(#gr)"/>
<circle cx="554.6" cy="218.3" r="1.85" fill="url(#gr)"/>
<circle cx="633.4" cy="218.4" r="1.75" fill="url(#gg)"/>
<circle cx="630.0" cy="218.4" r="1.75" fill="url(#gg)"/>
<circle cx="572.6" cy="219.2" r="1.85" fill="url(#gr)"/>
<circle cx="631.0" cy="219.5" r="1.75" fill="url(#gg)"/>
<circle cx="565.5" cy="219.7" r="1.85" fill="url(#gr)"/>
<circle cx="564.8" cy="220.2" r="1.85" fill="url(#gr)"/>
<circle cx="635.2" cy="220.7" r="1.75" fill="url(#gg)"/>
<circle cx="585.7" cy="220.8" r="1.85" fill="url(#gr)"/>
<circle cx="561.9" cy="220.8" r="1.85" fill="url(#gr)"/>
<circle cx="585.8" cy="221.0" r="1.85" fill="url(#gr)"/>
<circle cx="586.8" cy="221.1" r="1.85" fill="url(#gr)"/>
<circle cx="632.3" cy="221.3" r="1.75" fill="url(#gg)"/>
<circle cx="576.3" cy="221.3" r="1.85" fill="url(#gr)"/>
<circle cx="587.0" cy="221.4" r="1.85" fill="url(#gr)"/>
<circle cx="581.0" cy="221.7" r="1.85" fill="url(#gr)"/>
<circle cx="626.5" cy="221.9" r="1.75" fill="url(#gg)"/>
<circle cx="566.7" cy="222.1" r="1.85" fill="url(#gr)"/>
<circle cx="589.0" cy="222.3" r="1.85" fill="url(#gr)"/>
<circle cx="593.3" cy="222.3" r="1.85" fill="url(#gr)"/>
<circle cx="584.1" cy="222.6" r="1.85" fill="url(#gr)"/>
<circle cx="594.2" cy="222.6" r="1.85" fill="url(#gr)"/>
<circle cx="622.5" cy="223.6" r="1.75" fill="url(#gg)"/>
<circle cx="626.0" cy="223.6" r="1.75" fill="url(#gg)"/>
<circle cx="578.1" cy="224.7" r="1.85" fill="url(#gr)"/>
<circle cx="595.6" cy="224.7" r="1.85" fill="url(#gr)"/>
<circle cx="568.0" cy="224.9" r="1.85" fill="url(#gr)"/>
<circle cx="589.3" cy="225.2" r="1.85" fill="url(#gr)"/>
<circle cx="580.7" cy="225.6" r="1.85" fill="url(#gr)"/>
<circle cx="572.5" cy="225.7" r="1.85" fill="url(#gr)"/>
<circle cx="573.5" cy="225.7" r="1.85" fill="url(#gr)"/>
<circle cx="567.3" cy="225.8" r="1.85" fill="url(#gr)"/>
<circle cx="590.6" cy="226.0" r="1.85" fill="url(#gr)"/>
<circle cx="576.9" cy="226.4" r="1.85" fill="url(#gr)"/>
<circle cx="589.3" cy="226.4" r="1.85" fill="url(#gr)"/>
<circle cx="570.0" cy="227.0" r="1.85" fill="url(#gr)"/>
<circle cx="599.0" cy="227.1" r="1.85" fill="url(#gr)"/>
<circle cx="587.9" cy="227.4" r="1.85" fill="url(#gr)"/>
<circle cx="577.9" cy="227.7" r="1.85" fill="url(#gr)"/>
<circle cx="576.0" cy="228.1" r="1.85" fill="url(#gr)"/>
<circle cx="594.7" cy="228.1" r="1.85" fill="url(#gr)"/>
<circle cx="589.3" cy="228.1" r="1.85" fill="url(#gr)"/>
<circle cx="573.1" cy="228.2" r="1.85" fill="url(#gr)"/>
<circle cx="585.5" cy="228.9" r="1.85" fill="url(#gr)"/>
<circle cx="596.7" cy="228.9" r="1.85" fill="url(#gr)"/>
<circle cx="593.4" cy="228.9" r="1.85" fill="url(#gr)"/>
<circle cx="582.4" cy="229.0" r="1.85" fill="url(#gr)"/>
<circle cx="571.0" cy="229.2" r="1.85" fill="url(#gr)"/>
<circle cx="586.2" cy="229.5" r="1.85" fill="url(#gr)"/>
<circle cx="578.0" cy="229.6" r="1.85" fill="url(#gr)"/>
<circle cx="583.5" cy="229.6" r="1.85" fill="url(#gr)"/>
<circle cx="594.0" cy="229.6" r="1.85" fill="url(#gr)"/>
<circle cx="581.0" cy="229.7" r="1.85" fill="url(#gr)"/>
<circle cx="572.6" cy="230.0" r="1.85" fill="url(#gr)"/>
<circle cx="572.7" cy="230.2" r="1.85" fill="url(#gr)"/>
<circle cx="564.2" cy="230.3" r="1.85" fill="url(#gr)"/>
<circle cx="585.8" cy="230.8" r="1.85" fill="url(#gr)"/>
<circle cx="574.9" cy="230.9" r="1.85" fill="url(#gr)"/>
<circle cx="606.0" cy="231.0" r="1.75" fill="url(#gr)"/>
<circle cx="573.2" cy="231.8" r="1.85" fill="url(#gr)"/>
<circle cx="555.0" cy="232.0" r="1.75" fill="url(#gr)"/>
<circle cx="579.8" cy="232.4" r="1.85" fill="url(#gr)"/>
<circle cx="601.3" cy="232.6" r="1.85" fill="url(#gr)"/>
<circle cx="586.0" cy="233.4" r="1.85" fill="url(#gr)"/>
<circle cx="590.0" cy="233.8" r="1.85" fill="url(#gr)"/>
<circle cx="581.1" cy="233.9" r="1.85" fill="url(#gr)"/>
<circle cx="597.8" cy="233.9" r="1.85" fill="url(#gr)"/>
<circle cx="585.8" cy="234.2" r="1.85" fill="url(#gr)"/>
<circle cx="597.3" cy="234.3" r="1.85" fill="url(#gr)"/>
<circle cx="571.5" cy="234.8" r="1.85" fill="url(#gr)"/>
<circle cx="577.5" cy="235.4" r="1.85" fill="url(#gr)"/>
<circle cx="596.2" cy="235.9" r="1.85" fill="url(#gr)"/>
<circle cx="591.0" cy="235.9" r="1.85" fill="url(#gr)"/>
<circle cx="589.4" cy="236.0" r="1.85" fill="url(#gr)"/>
<circle cx="576.3" cy="236.1" r="1.85" fill="url(#gr)"/>
<circle cx="596.9" cy="236.4" r="1.85" fill="url(#gr)"/>
<circle cx="572.0" cy="236.5" r="1.85" fill="url(#gr)"/>
<circle cx="580.2" cy="236.5" r="1.85" fill="url(#gr)"/>
<circle cx="579.2" cy="236.8" r="1.85" fill="url(#gr)"/>
<circle cx="558.7" cy="236.8" r="1.85" fill="url(#gr)"/>
<circle cx="597.9" cy="237.2" r="1.85" fill="url(#gr)"/>
<circle cx="581.6" cy="237.4" r="1.85" fill="url(#gr)"/>
<circle cx="594.2" cy="237.4" r="1.85" fill="url(#gr)"/>
<circle cx="591.9" cy="238.0" r="1.85" fill="url(#gr)"/>
<circle cx="591.3" cy="238.0" r="1.85" fill="url(#gr)"/>
<circle cx="592.9" cy="238.2" r="1.85" fill="url(#gr)"/>
<circle cx="570.3" cy="238.9" r="1.85" fill="url(#gr)"/>
<circle cx="585.0" cy="239.1" r="1.85" fill="url(#gr)"/>
<circle cx="586.2" cy="239.6" r="1.85" fill="url(#gr)"/>
<circle cx="564.8" cy="239.7" r="1.85" fill="url(#gr)"/>
<circle cx="587.4" cy="240.1" r="1.85" fill="url(#gr)"/>
<circle cx="578.3" cy="242.5" r="1.85" fill="url(#gr)"/>
<circle cx="588.8" cy="246.0" r="1.75" fill="url(#gr)"/>
<text x="595.3" y="179.8" font-size="6.6" font-weight="bold" font-style="italic" fill="#3232c0" textLength="49" lengthAdjust="spacingAndGlyphs">indica _cluster 3</text>
<text x="609" y="209" font-size="6.6" font-weight="bold" fill="#22b04b" textLength="40" lengthAdjust="spacingAndGlyphs"><tspan font-style="italic">aus</tspan>-cluster 2</text>
<text x="574.4" y="253.8" font-size="6.6" font-weight="bold" font-style="italic" fill="#e8202a" textLength="49" lengthAdjust="spacingAndGlyphs">indica _cluster 1</text>
<line x1="6.3" y1="1.0" x2="6.3" y2="303.0" stroke="#383838" stroke-width="1.3"/>
<line x1="5.7" y1="1.5" x2="245.0" y2="1.5" stroke="#383838" stroke-width="1.05"/>
<line x1="244.5" y1="1.0" x2="244.5" y2="303.0" stroke="#383838" stroke-width="1.1"/>
<line x1="5.7" y1="302.5" x2="245.0" y2="302.5" stroke="#383838" stroke-width="1.1"/>
<line x1="257.5" y1="2.0" x2="257.5" y2="303.0" stroke="#555555" stroke-width="1.15"/>
<line x1="257.0" y1="2.4" x2="684.2" y2="2.4" stroke="#858585" stroke-width="1.3"/>
<line x1="683.6" y1="1.8" x2="683.6" y2="303.0" stroke="#6a6a6a" stroke-width="1.25"/>
<line x1="257.0" y1="302.5" x2="684.2" y2="302.5" stroke="#383838" stroke-width="1.1"/>
<line x1="257.0" y1="145.4" x2="684.2" y2="145.4" stroke="#555555" stroke-width="1.1"/>
<line x1="505.5" y1="145.0" x2="505.5" y2="303.0" stroke="#444" stroke-width="1.1"/>
<line x1="511.5" y1="145.0" x2="511.5" y2="303.0" stroke="#444" stroke-width="1.1"/>
</svg>
</body></html>
